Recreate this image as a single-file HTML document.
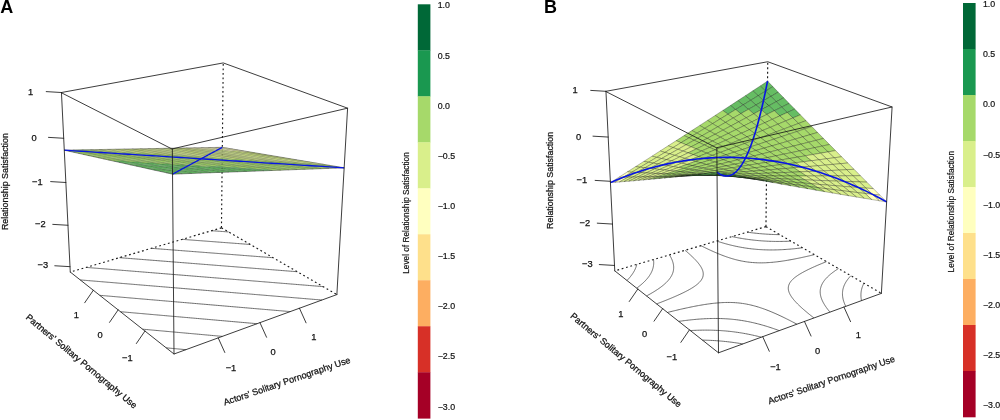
<!DOCTYPE html>
<html lang="en"><head><meta charset="utf-8"><title>Response surface plots</title>
<style>html,body{margin:0;padding:0;background:#fff}body{width:1000px;height:420px;overflow:hidden}svg{display:block;will-change:transform;transform:translateZ(0)}</style></head>
<body>
<svg width="1000" height="420" viewBox="0 0 1000 420" font-family="'Liberation Sans', Arial, Helvetica, sans-serif">
<rect width="1000" height="420" fill="#fff"/>
<g fill="none" stroke="#444" stroke-width="0.80">
<path d="M185.87 349.67 L184.90 349.58 L183.97 349.50 L183.03 349.41 L182.08 349.32 L181.15 349.23 L180.19 349.14 L179.28 349.06 L178.30 348.97 L177.41 348.89 L176.41 348.79 L175.54 348.71 L174.52 348.62 L173.67 348.54 L172.63 348.44 L171.81 348.37 L170.75 348.27 L169.94 348.19 L168.86 348.09 L168.07 348.02 L166.98 347.92 L166.21 347.85"/>
<path d="M222.30 336.38 L220.78 336.24 L220.44 336.21 L218.94 336.08 L218.58 336.05 L217.10 335.91 L216.72 335.88 L215.26 335.75 L214.86 335.71 L213.42 335.58 L213.01 335.54 L211.59 335.42 L211.15 335.38 L209.75 335.25 L209.30 335.21 L207.92 335.08 L207.45 335.04 L206.09 334.92 L205.60 334.88 L204.25 334.75 L203.75 334.71 L202.42 334.59 L201.90 334.54 L200.59 334.42 L200.05 334.37 L198.76 334.26 L198.20 334.21 L196.94 334.09 L196.36 334.04 L195.11 333.93 L194.51 333.88 L193.29 333.76 L192.67 333.71 L191.46 333.60 L190.83 333.54 L189.64 333.44 L188.98 333.38 L187.82 333.27 L187.14 333.21 L185.99 333.11 L185.30 333.04 L184.17 332.94 L183.47 332.88 L182.36 332.78 L181.63 332.71 L180.54 332.62 L179.79 332.55 L178.72 332.45 L177.96 332.38 L176.90 332.29 L176.12 332.22 L175.09 332.12 L174.29 332.05 L173.28 331.96 L172.46 331.89 L171.46 331.80 L170.63 331.72 L169.65 331.63 L168.80 331.56 L167.84 331.47 L166.97 331.39 L166.03 331.31 L165.14 331.23 L164.22 331.14 L163.32 331.06 L162.42 330.98 L161.49 330.90 L160.61 330.82 L159.67 330.73 L158.80 330.65 L157.84 330.57 L157.00 330.49 L156.02 330.40 L155.20 330.33 L154.20 330.24 L153.39 330.17 L152.38 330.08 L151.59 330.00 L150.56 329.91 L149.79 329.84 L148.74 329.75 L147.99 329.68 L146.92 329.58 L146.19 329.52 L145.11 329.42 L144.40 329.36 L143.29 329.26 L142.60 329.19"/>
<path d="M257.04 323.71 L256.79 323.68 L255.21 323.55 L254.99 323.53 L253.39 323.39 L253.18 323.37 L251.56 323.23 L251.37 323.21 L249.74 323.07 L249.57 323.05 L247.91 322.91 L247.76 322.89 L246.09 322.75 L245.96 322.73 L244.27 322.59 L244.16 322.58 L242.45 322.43 L242.36 322.42 L240.64 322.27 L240.56 322.26 L238.82 322.11 L238.76 322.10 L237.00 321.95 L236.96 321.94 L235.19 321.79 L235.16 321.79 L233.37 321.63 L233.37 321.63 L231.57 321.47 L231.56 321.47 L229.78 321.31 L229.75 321.31 L227.99 321.16 L227.93 321.15 L226.19 321.00 L226.12 320.99 L224.40 320.84 L224.32 320.84 L222.61 320.69 L222.51 320.68 L220.82 320.53 L220.70 320.52 L219.04 320.37 L218.89 320.36 L217.25 320.22 L217.09 320.20 L215.46 320.06 L215.29 320.04 L213.68 319.90 L213.48 319.89 L211.89 319.75 L211.68 319.73 L210.11 319.59 L209.88 319.57 L208.33 319.43 L208.08 319.41 L206.55 319.28 L206.28 319.25 L204.77 319.12 L204.48 319.10 L202.99 318.97 L202.69 318.94 L201.21 318.81 L200.89 318.78 L199.44 318.65 L199.10 318.62 L197.66 318.50 L197.30 318.47 L195.89 318.34 L195.51 318.31 L194.11 318.19 L193.72 318.15 L192.34 318.03 L191.93 317.99 L190.57 317.88 L190.14 317.84 L188.80 317.72 L188.35 317.68 L187.03 317.56 L186.56 317.52 L185.26 317.41 L184.77 317.37 L183.49 317.25 L182.99 317.21 L181.72 317.10 L181.20 317.05 L179.96 316.94 L179.42 316.90 L178.19 316.79 L177.64 316.74 L176.43 316.63 L175.86 316.58 L174.66 316.48 L174.07 316.43 L172.90 316.33 L172.30 316.27 L171.14 316.17 L170.52 316.12 L169.38 316.02 L168.74 315.96 L167.62 315.86 L166.96 315.80 L165.86 315.71 L165.19 315.65 L164.11 315.55 L163.41 315.49 L162.35 315.40 L161.64 315.34 L160.60 315.25 L159.87 315.18 L158.84 315.09 L158.09 315.03 L157.09 314.94 L156.32 314.87 L155.34 314.78 L154.55 314.72 L153.59 314.63 L152.79 314.56 L151.83 314.48 L151.02 314.41 L150.09 314.32 L149.25 314.25 L148.34 314.17 L147.49 314.10 L146.59 314.02 L145.72 313.94 L144.84 313.86 L143.96 313.79 L143.10 313.71 L142.19 313.63 L141.35 313.56 L140.43 313.48 L139.61 313.41 L138.67 313.32 L137.87 313.25 L136.91 313.17 L136.13 313.10 L135.15 313.01 L134.39 312.95 L133.40 312.86 L132.65 312.79 L131.64 312.71 L130.91 312.64 L129.88 312.55 L129.17 312.49 L128.13 312.40 L127.43 312.34 L126.37 312.24 L125.70 312.18 L124.62 312.09 L123.96 312.03 L122.87 311.94 L122.23 311.88 L121.12 311.78 L120.50 311.73"/>
<path d="M290.21 311.60 L289.42 311.54 L288.42 311.45 L287.64 311.39 L286.62 311.30 L285.87 311.23 L284.83 311.14 L284.09 311.08 L283.04 310.99 L282.32 310.93 L281.25 310.84 L280.55 310.78 L279.46 310.69 L278.78 310.63 L277.67 310.53 L277.01 310.48 L275.88 310.38 L275.24 310.33 L274.09 310.23 L273.47 310.17 L272.31 310.08 L271.70 310.02 L270.52 309.92 L269.94 309.87 L268.74 309.77 L268.17 309.72 L266.96 309.62 L266.41 309.57 L265.17 309.47 L264.64 309.42 L263.39 309.31 L262.88 309.27 L261.61 309.16 L261.12 309.12 L259.84 309.01 L259.36 308.97 L258.06 308.86 L257.60 308.82 L256.28 308.71 L255.84 308.67 L254.50 308.56 L254.08 308.52 L252.73 308.40 L252.32 308.37 L250.96 308.25 L250.57 308.22 L249.18 308.10 L248.81 308.07 L247.41 307.95 L247.06 307.92 L245.64 307.80 L245.31 307.77 L243.87 307.65 L243.56 307.62 L242.10 307.50 L241.80 307.47 L240.33 307.35 L240.05 307.32 L238.57 307.19 L238.31 307.17 L236.80 307.04 L236.56 307.02 L235.04 306.89 L234.81 306.87 L233.27 306.74 L233.06 306.72 L231.51 306.59 L231.32 306.58 L229.75 306.44 L229.58 306.43 L227.99 306.29 L227.83 306.28 L226.23 306.14 L226.09 306.13 L224.47 305.99 L224.35 305.98 L222.71 305.84 L222.61 305.83 L220.95 305.69 L220.87 305.68 L219.19 305.54 L219.13 305.54 L217.44 305.39 L217.39 305.39 L215.68 305.24 L215.66 305.24 L213.93 305.09 L213.92 305.09 L212.19 304.94 L212.18 304.94 L210.45 304.79 L210.43 304.79 L208.72 304.65 L208.68 304.64 L206.99 304.50 L206.93 304.49 L205.26 304.35 L205.18 304.34 L203.53 304.20 L203.43 304.19 L201.80 304.06 L201.69 304.05 L200.07 303.91 L199.94 303.90 L198.34 303.76 L198.19 303.75 L196.62 303.61 L196.45 303.60 L194.89 303.47 L194.71 303.45 L193.17 303.32 L192.97 303.30 L191.44 303.17 L191.23 303.15 L189.72 303.02 L189.49 303.00 L188.00 302.88 L187.75 302.86 L186.28 302.73 L186.01 302.71 L184.56 302.58 L184.27 302.56 L182.84 302.44 L182.54 302.41 L181.12 302.29 L180.80 302.26 L179.41 302.14 L179.07 302.11 L177.69 302.00 L177.33 301.97 L175.98 301.85 L175.60 301.82 L174.26 301.70 L173.87 301.67 L172.55 301.56 L172.14 301.52 L170.84 301.41 L170.41 301.38 L169.13 301.27 L168.68 301.23 L167.42 301.12 L166.95 301.08 L165.71 300.97 L165.23 300.93 L164.00 300.83 L163.50 300.79 L162.29 300.68 L161.78 300.64 L160.58 300.54 L160.05 300.49 L158.88 300.39 L158.33 300.34 L157.17 300.24 L156.61 300.20 L155.47 300.10 L154.89 300.05 L153.77 299.95 L153.17 299.90 L152.06 299.81 L151.45 299.76 L150.36 299.66 L149.73 299.61 L148.66 299.52 L148.02 299.46 L146.96 299.37 L146.30 299.32 L145.27 299.23 L144.58 299.17 L143.57 299.08 L142.87 299.02 L141.87 298.94 L141.16 298.88 L140.18 298.79 L139.44 298.73 L138.48 298.65 L137.73 298.58 L136.79 298.50 L136.02 298.44 L135.10 298.36 L134.31 298.29 L133.40 298.22 L132.60 298.15 L131.71 298.07 L130.90 298.00 L130.02 297.93 L129.19 297.86 L128.33 297.78 L127.48 297.71 L126.65 297.64 L125.78 297.56 L124.96 297.49 L124.07 297.42 L123.27 297.35 L122.37 297.27 L121.59 297.21 L120.67 297.13 L119.90 297.06 L118.97 296.98 L118.22 296.92 L117.27 296.84 L116.54 296.77 L115.57 296.69 L114.85 296.63 L113.87 296.55 L113.17 296.49 L112.17 296.40 L111.49 296.34 L110.48 296.26 L109.81 296.20 L108.78 296.11 L108.14 296.06 L107.08 295.97 L106.46 295.91 L105.39 295.82 L104.78 295.77 L103.70 295.68 L103.11 295.63 L102.01 295.53 L101.43 295.49 L100.31 295.39 L99.76 295.34"/>
<path d="M321.91 300.04 L320.60 299.93 L320.15 299.89 L318.85 299.78 L318.39 299.74 L317.11 299.64 L316.63 299.60 L315.36 299.49 L314.87 299.45 L313.62 299.35 L313.11 299.30 L311.88 299.20 L311.35 299.16 L310.14 299.06 L309.59 299.01 L308.40 298.91 L307.83 298.87 L306.66 298.77 L306.08 298.72 L304.92 298.62 L304.32 298.57 L303.19 298.48 L302.57 298.43 L301.45 298.34 L300.81 298.28 L299.72 298.19 L299.06 298.14 L297.98 298.05 L297.31 297.99 L296.25 297.90 L295.56 297.85 L294.52 297.76 L293.81 297.70 L292.79 297.61 L292.06 297.55 L291.06 297.47 L290.31 297.41 L289.33 297.33 L288.57 297.26 L287.60 297.18 L286.82 297.12 L285.87 297.04 L285.08 296.97 L284.14 296.90 L283.33 296.83 L282.42 296.75 L281.59 296.68 L280.69 296.61 L279.85 296.54 L278.97 296.47 L278.11 296.39 L277.25 296.32 L276.37 296.25 L275.53 296.18 L274.63 296.10 L273.80 296.04 L272.89 295.96 L272.08 295.89 L271.15 295.82 L270.37 295.75 L269.42 295.67 L268.65 295.61 L267.68 295.53 L266.93 295.46 L265.95 295.38 L265.21 295.32 L264.22 295.24 L263.50 295.18 L262.48 295.09 L261.78 295.04 L260.75 294.95 L260.07 294.89 L259.02 294.81 L258.36 294.75 L257.29 294.66 L256.65 294.61 L255.56 294.52 L254.94 294.47 L253.84 294.38 L253.23 294.32 L252.11 294.23 L251.52 294.18 L250.38 294.09 L249.81 294.04 L248.66 293.94 L248.10 293.90 L246.93 293.80 L246.40 293.76 L245.21 293.66 L244.69 293.61 L243.49 293.51 L242.99 293.47 L241.77 293.37 L241.28 293.33 L240.05 293.23 L239.58 293.19 L238.33 293.09 L237.88 293.05 L236.61 292.94 L236.18 292.91 L234.89 292.80 L234.48 292.76 L233.18 292.66 L232.78 292.62 L231.46 292.51 L231.08 292.48 L229.75 292.37 L229.38 292.34 L228.03 292.23 L227.69 292.20 L226.32 292.09 L225.99 292.06 L224.61 291.94 L224.30 291.92 L222.90 291.80 L222.60 291.78 L221.19 291.66 L220.91 291.64 L219.48 291.52 L219.22 291.50 L217.77 291.38 L217.53 291.36 L216.06 291.23 L215.84 291.21 L214.36 291.09 L214.15 291.07 L212.65 290.95 L212.46 290.93 L210.95 290.81 L210.77 290.79 L209.24 290.67 L209.09 290.65 L207.54 290.52 L207.40 290.51 L205.84 290.38 L205.72 290.37 L204.14 290.24 L204.03 290.23 L202.44 290.10 L202.35 290.09 L200.74 289.96 L200.67 289.95 L199.04 289.82 L198.99 289.81 L197.34 289.68 L197.31 289.67 L195.65 289.54 L195.63 289.53 L193.95 289.39 L193.95 289.39 L192.27 289.25 L192.26 289.25 L190.60 289.12 L190.56 289.11 L188.92 288.98 L188.87 288.97 L187.25 288.84 L187.18 288.83 L185.57 288.70 L185.49 288.69 L183.90 288.56 L183.80 288.55 L182.23 288.42 L182.11 288.41 L180.56 288.28 L180.42 288.27 L178.89 288.14 L178.73 288.13 L177.22 288.00 L177.05 287.99 L175.55 287.86 L175.36 287.85 L173.88 287.72 L173.68 287.71 L172.21 287.59 L171.99 287.57 L170.55 287.45 L170.31 287.43 L168.88 287.31 L168.63 287.29 L167.22 287.17 L166.95 287.15 L165.56 287.03 L165.27 287.01 L163.89 286.89 L163.59 286.87 L162.23 286.76 L161.91 286.73 L160.57 286.62 L160.23 286.59 L158.91 286.48 L158.56 286.45 L157.25 286.34 L156.88 286.31 L155.60 286.20 L155.21 286.17 L153.94 286.07 L153.53 286.03 L152.28 285.93 L151.86 285.89 L150.63 285.79 L150.19 285.75 L148.97 285.65 L148.52 285.62 L147.32 285.52 L146.85 285.48 L145.67 285.38 L145.18 285.34 L144.01 285.24 L143.51 285.20 L142.36 285.10 L141.84 285.06 L140.71 284.97 L140.17 284.92 L139.06 284.83 L138.51 284.78 L137.42 284.69 L136.84 284.64 L135.77 284.55 L135.18 284.51 L134.12 284.42 L133.52 284.37 L132.48 284.28 L131.85 284.23 L130.83 284.14 L130.19 284.09 L129.19 284.01 L128.53 283.95 L127.54 283.87 L126.87 283.81 L125.90 283.73 L125.21 283.68 L124.26 283.60 L123.56 283.54 L122.62 283.46 L121.90 283.40 L120.98 283.32 L120.24 283.26 L119.34 283.19 L118.59 283.13 L117.70 283.05 L116.93 282.99 L116.06 282.92 L115.28 282.85 L114.43 282.78 L113.63 282.71 L112.79 282.64 L111.98 282.58 L111.16 282.51 L110.32 282.44 L109.52 282.37 L108.67 282.30 L107.89 282.24 L107.03 282.16 L106.26 282.10 L105.38 282.03 L104.63 281.96 L103.73 281.89 L103.00 281.83 L102.08 281.75 L101.37 281.69 L100.44 281.62 L99.74 281.56 L98.79 281.48 L98.11 281.42 L97.15 281.34 L96.49 281.29 L95.51 281.21 L94.86 281.15 L93.86 281.07 L93.23 281.02 L92.22 280.93 L91.61 280.88 L90.58 280.80 L89.99 280.75 L88.94 280.66 L88.36 280.61 L87.30 280.52 L86.74 280.48 L85.67 280.39 L85.12 280.34 L84.03 280.25 L83.50 280.21 L82.39 280.12 L81.88 280.07 L80.76 279.98 L80.26 279.94"/>
<path d="M323.08 286.61 L322.90 286.59 L321.38 286.47 L321.18 286.45 L319.68 286.33 L319.46 286.31 L317.98 286.19 L317.75 286.17 L316.29 286.06 L316.03 286.03 L314.59 285.92 L314.32 285.90 L312.89 285.78 L312.61 285.76 L311.20 285.64 L310.89 285.62 L309.50 285.51 L309.18 285.48 L307.81 285.37 L307.47 285.34 L306.12 285.23 L305.76 285.20 L304.42 285.09 L304.05 285.06 L302.73 284.96 L302.34 284.92 L301.04 284.82 L300.64 284.79 L299.35 284.68 L298.93 284.65 L297.67 284.55 L297.22 284.51 L295.98 284.41 L295.52 284.37 L294.29 284.27 L293.82 284.23 L292.61 284.14 L292.11 284.10 L290.92 284.00 L290.41 283.96 L289.24 283.86 L288.71 283.82 L287.55 283.73 L287.01 283.68 L285.87 283.59 L285.31 283.54 L284.19 283.45 L283.62 283.41 L282.51 283.32 L281.92 283.27 L280.83 283.18 L280.22 283.13 L279.15 283.04 L278.53 282.99 L277.48 282.91 L276.83 282.86 L275.80 282.77 L275.14 282.72 L274.12 282.64 L273.45 282.58 L272.45 282.50 L271.75 282.44 L270.77 282.37 L270.06 282.31 L269.10 282.23 L268.37 282.17 L267.43 282.09 L266.68 282.03 L265.76 281.96 L265.00 281.90 L264.09 281.82 L263.31 281.76 L262.42 281.69 L261.62 281.62 L260.75 281.55 L259.94 281.49 L259.08 281.42 L258.25 281.35 L257.41 281.28 L256.57 281.21 L255.74 281.15 L254.88 281.08 L254.08 281.01 L253.20 280.94 L252.41 280.88 L251.52 280.80 L250.75 280.74 L249.84 280.67 L249.09 280.61 L248.16 280.53 L247.43 280.47 L246.48 280.40 L245.76 280.34 L244.81 280.26 L244.10 280.20 L243.13 280.12 L242.45 280.07 L241.45 279.99 L240.79 279.93 L239.78 279.85 L239.13 279.80 L238.10 279.72 L237.47 279.67 L236.43 279.58 L235.82 279.53 L234.76 279.45 L234.16 279.40 L233.09 279.31 L232.51 279.26 L231.42 279.17 L230.85 279.13 L229.75 279.04 L229.20 278.99 L228.08 278.90 L227.55 278.86 L226.41 278.77 L225.90 278.73 L224.74 278.63 L224.25 278.59 L223.08 278.50 L222.60 278.46 L221.41 278.36 L220.95 278.33 L219.75 278.23 L219.30 278.19 L218.08 278.09 L217.66 278.06 L216.42 277.96 L216.01 277.93 L214.76 277.82 L214.37 277.79 L213.10 277.69 L212.72 277.66 L211.44 277.55 L211.08 277.53 L209.78 277.42 L209.44 277.39 L208.12 277.29 L207.80 277.26 L206.46 277.15 L206.16 277.13 L204.81 277.02 L204.52 276.99 L203.15 276.88 L202.88 276.86 L201.50 276.75 L201.24 276.73 L199.84 276.61 L199.60 276.59 L198.19 276.48 L197.96 276.46 L196.54 276.35 L196.33 276.33 L194.88 276.21 L194.69 276.20 L193.23 276.08 L193.06 276.06 L191.58 275.94 L191.43 275.93 L189.94 275.81 L189.80 275.80 L188.29 275.68 L188.16 275.67 L186.64 275.54 L186.53 275.54 L184.99 275.41 L184.90 275.40 L183.35 275.28 L183.28 275.27 L181.70 275.14 L181.65 275.14 L180.06 275.01 L180.02 275.01 L178.42 274.88 L178.39 274.88 L176.78 274.74 L176.77 274.74 L175.14 274.61 L175.13 274.61 L173.52 274.48 L173.49 274.48 L171.90 274.35 L171.85 274.35 L170.28 274.22 L170.22 274.21 L168.65 274.09 L168.58 274.08 L167.03 273.95 L166.94 273.95 L165.41 273.82 L165.31 273.81 L163.80 273.69 L163.67 273.68 L162.18 273.56 L162.04 273.55 L160.56 273.43 L160.40 273.42 L158.94 273.30 L158.77 273.28 L157.33 273.17 L157.14 273.15 L155.71 273.04 L155.51 273.02 L154.10 272.91 L153.88 272.89 L152.49 272.77 L152.25 272.76 L150.88 272.64 L150.62 272.62 L149.26 272.51 L148.99 272.49 L147.65 272.38 L147.37 272.36 L146.04 272.25 L145.74 272.23 L144.44 272.12 L144.11 272.10 L142.83 271.99 L142.49 271.96 L141.22 271.86 L140.87 271.83 L139.61 271.73 L139.24 271.70 L138.01 271.60 L137.62 271.57 L136.40 271.47 L136.00 271.44 L134.80 271.34 L134.38 271.31 L133.20 271.21 L132.76 271.18 L131.60 271.08 L131.14 271.04 L129.99 270.95 L129.53 270.91 L128.39 270.82 L127.91 270.78 L126.79 270.69 L126.29 270.65 L125.19 270.56 L124.68 270.52 L123.60 270.43 L123.06 270.39 L122.00 270.30 L121.45 270.26 L120.40 270.17 L119.84 270.13 L118.81 270.04 L118.23 270.00 L117.21 269.91 L116.62 269.87 L115.62 269.79 L115.01 269.74 L114.03 269.66 L113.40 269.61 L112.43 269.53 L111.79 269.48 L110.84 269.40 L110.18 269.34 L109.25 269.27 L108.58 269.21 L107.66 269.14 L106.97 269.08 L106.07 269.01 L105.36 268.95 L104.48 268.88 L103.76 268.82 L102.90 268.75 L102.16 268.69 L101.31 268.63 L100.55 268.56 L99.72 268.50 L98.95 268.43 L98.14 268.37 L97.35 268.30 L96.55 268.24 L95.75 268.17 L94.97 268.11 L94.15 268.05 L93.39 267.98 L92.55 267.92 L91.80 267.85 L90.96 267.79 L90.22 267.73 L89.36 267.66 L88.64 267.60 L87.76 267.53 L87.06 267.47 L86.17 267.40"/>
<path d="M297.37 271.74 L297.14 271.72 L295.72 271.61 L295.48 271.59 L294.08 271.48 L293.82 271.46 L292.44 271.35 L292.16 271.32 L290.80 271.22 L290.51 271.19 L289.15 271.09 L288.85 271.06 L287.51 270.96 L287.19 270.93 L285.88 270.83 L285.54 270.80 L284.24 270.70 L283.88 270.67 L282.60 270.57 L282.23 270.54 L280.96 270.44 L280.57 270.41 L279.33 270.31 L278.92 270.28 L277.69 270.18 L277.27 270.15 L276.06 270.05 L275.62 270.02 L274.42 269.92 L273.97 269.89 L272.79 269.79 L272.32 269.75 L271.16 269.66 L270.67 269.62 L269.53 269.53 L269.03 269.49 L267.90 269.40 L267.38 269.36 L266.27 269.28 L265.73 269.23 L264.64 269.15 L264.09 269.10 L263.01 269.02 L262.45 268.97 L261.39 268.89 L260.80 268.84 L259.76 268.76 L259.16 268.71 L258.14 268.63 L257.52 268.58 L256.51 268.50 L255.88 268.45 L254.89 268.38 L254.24 268.32 L253.27 268.25 L252.60 268.19 L251.65 268.12 L250.96 268.07 L250.02 267.99 L249.33 267.94 L248.40 267.86 L247.69 267.81 L246.79 267.73 L246.05 267.68 L245.17 267.61 L244.42 267.55 L243.55 267.48 L242.79 267.42 L241.93 267.35 L241.15 267.29 L240.32 267.22 L239.52 267.16 L238.70 267.10 L237.89 267.03 L237.09 266.97 L236.26 266.90 L235.47 266.84 L234.63 266.77 L233.86 266.71 L233.00 266.64 L232.25 266.59 L231.37 266.52 L230.64 266.46 L229.75 266.39 L229.03 266.33 L228.12 266.26 L227.42 266.20 L226.50 266.13 L225.81 266.08 L224.87 266.00 L224.20 265.95 L223.25 265.87 L222.60 265.82 L221.62 265.74 L220.99 265.69 L220.00 265.62 L219.38 265.57 L218.38 265.49 L217.78 265.44 L216.76 265.36 L216.18 265.31 L215.14 265.23 L214.57 265.19 L213.52 265.10 L212.97 265.06 L211.90 264.98 L211.37 264.93 L210.29 264.85 L209.77 264.81 L208.67 264.72 L208.17 264.68 L207.06 264.59 L206.57 264.55 L205.44 264.47 L204.97 264.43 L203.83 264.34 L203.37 264.30 L202.21 264.21 L201.78 264.18 L200.60 264.08 L200.18 264.05 L198.99 263.95 L198.59 263.92 L197.38 263.83 L196.99 263.80 L195.77 263.70 L195.40 263.67 L194.16 263.57 L193.81 263.54 L192.55 263.45 L192.22 263.42 L190.95 263.32 L190.63 263.29 L189.34 263.19 L189.04 263.17 L187.73 263.06 L187.45 263.04 L186.13 262.94 L185.86 262.92 L184.53 262.81 L184.27 262.79 L182.92 262.68 L182.68 262.67 L181.32 262.56 L181.10 262.54 L179.72 262.43 L179.51 262.41 L178.12 262.30 L177.93 262.29 L176.52 262.18 L176.34 262.16 L174.92 262.05 L174.76 262.04 L173.32 261.92 L173.18 261.91 L171.72 261.80 L171.60 261.79 L170.13 261.67 L170.02 261.66 L168.53 261.55 L168.44 261.54 L166.94 261.42 L166.86 261.41 L165.34 261.29 L165.28 261.29 L163.75 261.17 L163.70 261.16 L162.15 261.04 L162.13 261.04 L160.56 260.92 L160.55 260.91 L158.98 260.79 L158.97 260.79 L157.40 260.67 L157.38 260.66 L155.83 260.54 L155.79 260.54 L154.26 260.42 L154.20 260.41 L152.68 260.29 L152.62 260.29 L151.11 260.17 L151.03 260.16 L149.54 260.04 L149.44 260.04 L147.97 259.92 L147.86 259.91 L146.40 259.80 L146.27 259.79 L144.84 259.67 L144.69 259.66 L143.27 259.55 L143.11 259.53 L141.70 259.42 L141.52 259.41 L140.14 259.30 L139.94 259.28 L138.57 259.18 L138.36 259.16 L137.01 259.05 L136.78 259.03 L135.45 258.93 L135.20 258.91 L133.88 258.81 L133.62 258.79 L132.32 258.68 L132.05 258.66 L130.76 258.56 L130.47 258.54 L129.20 258.44 L128.89 258.41 L127.64 258.31 L127.32 258.29 L126.08 258.19 L125.75 258.16 L124.53 258.07 L124.17 258.04 L122.97 257.94 L122.60 257.91 L121.41 257.82 L121.03 257.79 L119.86 257.70 L119.46 257.66"/>
<path d="M273.12 257.71 L272.86 257.69 L271.53 257.59 L271.25 257.57 L269.94 257.47 L269.65 257.45 L268.35 257.35 L268.04 257.32 L266.76 257.22 L266.44 257.20 L265.17 257.10 L264.83 257.07 L263.58 256.98 L263.23 256.95 L262.00 256.86 L261.63 256.83 L260.41 256.73 L260.03 256.70 L258.83 256.61 L258.43 256.58 L257.24 256.49 L256.83 256.46 L255.66 256.37 L255.23 256.33 L254.08 256.24 L253.63 256.21 L252.50 256.12 L252.03 256.09 L250.91 256.00 L250.43 255.96 L249.33 255.88 L248.84 255.84 L247.76 255.76 L247.24 255.72 L246.18 255.63 L245.65 255.59 L244.60 255.51 L244.05 255.47 L243.02 255.39 L242.46 255.35 L241.45 255.27 L240.87 255.22 L239.87 255.15 L239.28 255.10 L238.30 255.03 L237.69 254.98 L236.72 254.90 L236.10 254.86 L235.15 254.78 L234.51 254.73 L233.58 254.66 L232.92 254.61 L232.00 254.54 L231.33 254.49 L230.43 254.42 L229.75 254.37 L228.86 254.30 L228.16 254.24 L227.29 254.18 L226.58 254.12 L225.73 254.06 L224.99 254.00 L224.16 253.93 L223.41 253.88 L222.59 253.81 L221.83 253.75 L221.02 253.69 L220.24 253.63 L219.46 253.57 L218.66 253.51 L217.89 253.45 L217.08 253.39 L216.33 253.33 L215.50 253.27 L214.77 253.21 L213.93 253.14 L213.21 253.09 L212.35 253.02 L211.64 252.97 L210.77 252.90 L210.08 252.85 L209.19 252.78 L208.52 252.73 L207.62 252.66 L206.96 252.61 L206.04 252.54 L205.41 252.49 L204.47 252.41 L203.85 252.37 L202.90 252.29 L202.29 252.25 L201.32 252.17 L200.73 252.13 L199.75 252.05 L199.18 252.01 L198.18 251.93 L197.62 251.89 L196.61 251.81 L196.07 251.77 L195.04 251.69 L194.52 251.65 L193.47 251.57 L192.97 251.53 L191.91 251.44 L191.41 251.41 L190.34 251.32 L189.86 251.29 L188.77 251.20 L188.31 251.17 L187.21 251.08 L186.76 251.05 L185.64 250.96 L185.21 250.93 L184.08 250.84 L183.67 250.81 L182.52 250.72 L182.12 250.69 L180.95 250.60 L180.57 250.57 L179.39 250.48 L179.03 250.45 L177.83 250.36 L177.48 250.33 L176.27 250.24 L175.94 250.21 L174.71 250.12 L174.40 250.09 L173.16 250.00 L172.85 249.97 L171.60 249.88 L171.31 249.85 L170.04 249.76 L169.77 249.74 L168.48 249.64 L168.23 249.62 L166.93 249.52 L166.69 249.50 L165.37 249.40 L165.15 249.38 L163.82 249.28 L163.61 249.26 L162.27 249.16 L162.08 249.14 L160.72 249.04 L160.54 249.02 L159.16 248.92 L159.01 248.90 L157.61 248.80 L157.47 248.79 L156.06 248.68 L155.94 248.67 L154.51 248.56 L154.40 248.55 L152.97 248.44 L152.87 248.43 L151.42 248.32"/>
<path d="M250.22 244.47 L249.93 244.45 L248.68 244.36 L248.37 244.33 L247.14 244.24 L246.82 244.22 L245.60 244.12 L245.26 244.10 L244.06 244.01 L243.71 243.98 L242.52 243.89 L242.15 243.86 L240.98 243.78 L240.60 243.75 L239.45 243.66 L239.05 243.63 L237.91 243.54 L237.49 243.51 L236.37 243.43 L235.94 243.40 L234.84 243.31 L234.39 243.28 L233.30 243.20 L232.84 243.16 L231.77 243.08 L231.30 243.05 L230.24 242.97 L229.75 242.93 L228.71 242.85 L228.20 242.81 L227.18 242.74 L226.65 242.70 L225.65 242.62 L225.11 242.58 L224.12 242.50 L223.56 242.46 L222.59 242.39 L222.02 242.35 L221.06 242.27 L220.48 242.23 L219.53 242.16 L218.93 242.11 L218.01 242.04 L217.39 242.00 L216.48 241.93 L215.85 241.88 L214.95 241.81 L214.31 241.76 L213.43 241.70 L212.77 241.65 L211.91 241.58 L211.23 241.53 L210.38 241.47 L209.69 241.42 L208.86 241.35 L208.15 241.30 L207.34 241.24 L206.62 241.18 L205.82 241.12 L205.08 241.07 L204.30 241.01 L203.55 240.95 L202.78 240.90 L202.01 240.84 L201.26 240.78 L200.48 240.72 L199.74 240.67 L198.95 240.61 L198.23 240.55 L197.41 240.49 L196.71 240.44 L195.88 240.38 L195.19 240.32 L194.35 240.26 L193.68 240.21 L192.82 240.14 L192.16 240.10 L191.29 240.03 L190.65 239.98 L189.76 239.91 L189.14 239.87 L188.24 239.80 L187.63 239.75 L186.71 239.68 L186.11 239.64 L185.18 239.57 L184.60 239.53 L183.66 239.45 L183.09 239.41 L182.13 239.34"/>
<path d="M228.56 231.95 L228.24 231.92 L227.06 231.84 L226.73 231.81 L225.57 231.73 L225.22 231.70 L224.08 231.62 L223.71 231.59 L222.58 231.51 L222.20 231.48 L221.09 231.40 L220.70 231.37 L219.60 231.29 L219.19 231.26 L218.11 231.18 L217.68 231.15 L216.62 231.07 L216.18 231.03 L215.13 230.96 L214.67 230.92 L213.64 230.85 L213.17 230.81 L212.16 230.74 L211.67 230.70"/>
</g>
<g fill="none" stroke="#1a1a1a" stroke-width="1.15" stroke-dasharray="1.8 2.7">
<path d="M221.46 227.84 L70.27 272.05"/>
<path d="M221.46 227.84 L336.87 294.58"/>
<path d="M221.46 227.84 L223.25 62.93"/>
</g>
<g stroke="#000" stroke-width="0.17" stroke-opacity="0.80" stroke-linejoin="round">
<polygon points="220.45,148.33 227.57,148.20 222.33,147.31 215.23,147.44" fill="#ffffbf"/>
<polygon points="213.24,148.47 220.45,148.33 215.23,147.44 208.05,147.57" fill="#ffffbf"/>
<polygon points="225.74,149.23 232.89,149.09 227.57,148.20 220.45,148.33" fill="#ffffbf"/>
<polygon points="205.96,148.60 213.24,148.47 208.05,147.57 200.80,147.70" fill="#ffffbf"/>
<polygon points="218.51,149.37 225.74,149.23 220.45,148.33 213.24,148.47" fill="#ffffbf"/>
<polygon points="231.11,150.14 238.29,150.00 232.89,149.09 225.74,149.23" fill="#ffffbf"/>
<polygon points="198.60,148.74 205.96,148.60 200.80,147.70 193.47,147.84" fill="#ffffbf"/>
<polygon points="211.21,149.52 218.51,149.37 213.24,148.47 205.96,148.60" fill="#ffffbf"/>
<polygon points="223.86,150.29 231.11,150.14 225.74,149.23 218.51,149.37" fill="#ffffbf"/>
<polygon points="191.16,148.88 198.60,148.74 193.47,147.84 186.05,147.97" fill="#ffffbf"/>
<polygon points="236.57,151.07 243.77,150.92 238.29,150.00 231.11,150.14" fill="#ffffbf"/>
<polygon points="203.82,149.66 211.21,149.52 205.96,148.60 198.60,148.74" fill="#ffffbf"/>
<polygon points="216.53,150.44 223.86,150.29 218.51,149.37 211.21,149.52" fill="#ffffbf"/>
<polygon points="183.64,149.02 191.16,148.88 186.05,147.97 178.56,148.11" fill="#d9ef8b"/>
<polygon points="229.29,151.23 236.57,151.07 231.11,150.14 223.86,150.29" fill="#ffffbf"/>
<polygon points="196.35,149.81 203.82,149.66 198.60,148.74 191.16,148.88" fill="#d9ef8b"/>
<polygon points="242.10,152.01 249.33,151.86 243.77,150.92 236.57,151.07" fill="#ffffbf"/>
<polygon points="209.11,150.59 216.53,150.44 211.21,149.52 203.82,149.66" fill="#d9ef8b"/>
<polygon points="176.03,149.17 183.64,149.02 178.56,148.11 170.98,148.25" fill="#d9ef8b"/>
<polygon points="221.93,151.38 229.29,151.23 223.86,150.29 216.53,150.44" fill="#d9ef8b"/>
<polygon points="188.80,149.96 196.35,149.81 191.16,148.88 183.64,149.02" fill="#d9ef8b"/>
<polygon points="234.80,152.18 242.10,152.01 236.57,151.07 229.29,151.23" fill="#d9ef8b"/>
<polygon points="201.62,150.75 209.11,150.59 203.82,149.66 196.35,149.81" fill="#d9ef8b"/>
<polygon points="247.73,152.97 254.97,152.81 249.33,151.86 242.10,152.01" fill="#d9ef8b"/>
<polygon points="168.34,149.31 176.03,149.17 170.98,148.25 163.32,148.38" fill="#d9ef8b"/>
<polygon points="214.49,151.54 221.93,151.38 216.53,150.44 209.11,150.59" fill="#d9ef8b"/>
<polygon points="181.16,150.11 188.80,149.96 183.64,149.02 176.03,149.17" fill="#d9ef8b"/>
<polygon points="227.42,152.34 234.80,152.18 229.29,151.23 221.93,151.38" fill="#d9ef8b"/>
<polygon points="194.04,150.90 201.62,150.75 196.35,149.81 188.80,149.96" fill="#d9ef8b"/>
<polygon points="240.40,153.14 247.73,152.97 242.10,152.01 234.80,152.18" fill="#d9ef8b"/>
<polygon points="160.56,149.46 168.34,149.31 163.32,148.38 155.57,148.53" fill="#d9ef8b"/>
<polygon points="206.97,151.70 214.49,151.54 209.11,150.59 201.62,150.75" fill="#d9ef8b"/>
<polygon points="253.44,153.94 260.71,153.77 254.97,152.81 247.73,152.97" fill="#d9ef8b"/>
<polygon points="173.44,150.26 181.16,150.11 176.03,149.17 168.34,149.31" fill="#d9ef8b"/>
<polygon points="219.95,152.50 227.42,152.34 221.93,151.38 214.49,151.54" fill="#d9ef8b"/>
<polygon points="186.37,151.06 194.04,150.90 188.80,149.96 181.16,150.11" fill="#d9ef8b"/>
<polygon points="232.99,153.31 240.40,153.14 234.80,152.18 227.42,152.34" fill="#d9ef8b"/>
<polygon points="152.69,149.61 160.56,149.46 155.57,148.53 147.74,148.67" fill="#d9ef8b"/>
<polygon points="199.36,151.86 206.97,151.70 201.62,150.75 194.04,150.90" fill="#d9ef8b"/>
<polygon points="246.08,154.12 253.44,153.94 247.73,152.97 240.40,153.14" fill="#d9ef8b"/>
<polygon points="165.63,150.41 173.44,150.26 168.34,149.31 160.56,149.46" fill="#d9ef8b"/>
<polygon points="212.40,152.67 219.95,152.50 214.49,151.54 206.97,151.70" fill="#d9ef8b"/>
<polygon points="259.23,154.93 266.53,154.75 260.71,153.77 253.44,153.94" fill="#d9ef8b"/>
<polygon points="178.62,151.22 186.37,151.06 181.16,150.11 173.44,150.26" fill="#d9ef8b"/>
<polygon points="225.49,153.48 232.99,153.31 227.42,152.34 219.95,152.50" fill="#d9ef8b"/>
<polygon points="144.74,149.76 152.69,149.61 147.74,148.67 139.82,148.81" fill="#d9ef8b"/>
<polygon points="191.66,152.02 199.36,151.86 194.04,150.90 186.37,151.06" fill="#d9ef8b"/>
<polygon points="238.65,154.29 246.08,154.12 240.40,153.14 232.99,153.31" fill="#d9ef8b"/>
<polygon points="157.73,150.57 165.63,150.41 160.56,149.46 152.69,149.61" fill="#d9ef8b"/>
<polygon points="204.76,152.84 212.40,152.67 206.97,151.70 199.36,151.86" fill="#d9ef8b"/>
<polygon points="251.86,155.11 259.23,154.93 253.44,153.94 246.08,154.12" fill="#d9ef8b"/>
<polygon points="170.77,151.38 178.62,151.22 173.44,150.26 165.63,150.41" fill="#d9ef8b"/>
<polygon points="217.91,153.65 225.49,153.48 219.95,152.50 212.40,152.67" fill="#d9ef8b"/>
<polygon points="136.69,149.91 144.74,149.76 139.82,148.81 131.81,148.96" fill="#d9ef8b"/>
<polygon points="265.12,155.93 272.44,155.74 266.53,154.75 259.23,154.93" fill="#d9ef8b"/>
<polygon points="183.88,152.19 191.66,152.02 186.37,151.06 178.62,151.22" fill="#d9ef8b"/>
<polygon points="231.13,154.47 238.65,154.29 232.99,153.31 225.49,153.48" fill="#d9ef8b"/>
<polygon points="149.74,150.72 157.73,150.57 152.69,149.61 144.74,149.76" fill="#d9ef8b"/>
<polygon points="197.03,153.01 204.76,152.84 199.36,151.86 191.66,152.02" fill="#d9ef8b"/>
<polygon points="244.40,155.29 251.86,155.11 246.08,154.12 238.65,154.29" fill="#d9ef8b"/>
<polygon points="162.84,151.54 170.77,151.38 165.63,150.41 157.73,150.57" fill="#d9ef8b"/>
<polygon points="210.25,153.83 217.91,153.65 212.40,152.67 204.76,152.84" fill="#d9ef8b"/>
<polygon points="128.55,150.07 136.69,149.91 131.81,148.96 123.70,149.10" fill="#d9ef8b"/>
<polygon points="257.72,156.12 265.12,155.93 259.23,154.93 251.86,155.11" fill="#d9ef8b"/>
<polygon points="176.00,152.36 183.88,152.19 178.62,151.22 170.77,151.38" fill="#d9ef8b"/>
<polygon points="223.52,154.65 231.13,154.47 225.49,153.48 217.91,153.65" fill="#d9ef8b"/>
<polygon points="141.66,150.88 149.74,150.72 144.74,149.76 136.69,149.91" fill="#d9ef8b"/>
<polygon points="271.11,156.95 278.45,156.76 272.44,155.74 265.12,155.93" fill="#d9ef8b"/>
<polygon points="189.22,153.18 197.03,153.01 191.66,152.02 183.88,152.19" fill="#d9ef8b"/>
<polygon points="236.85,155.48 244.40,155.29 238.65,154.29 231.13,154.47" fill="#d9ef8b"/>
<polygon points="154.82,151.70 162.84,151.54 157.73,150.57 149.74,150.72" fill="#d9ef8b"/>
<polygon points="202.49,154.00 210.25,153.83 204.76,152.84 197.03,153.01" fill="#d9ef8b"/>
<polygon points="120.32,150.22 128.55,150.07 123.70,149.10 115.51,149.25" fill="#d9ef8b"/>
<polygon points="250.24,156.31 257.72,156.12 251.86,155.11 244.40,155.29" fill="#d9ef8b"/>
<polygon points="168.04,152.53 176.00,152.36 170.77,151.38 162.84,151.54" fill="#d9ef8b"/>
<polygon points="215.82,154.83 223.52,154.65 217.91,153.65 210.25,153.83" fill="#d9ef8b"/>
<polygon points="133.48,151.04 141.66,150.88 136.69,149.91 128.55,150.07" fill="#d9ef8b"/>
<polygon points="263.68,157.14 271.11,156.95 265.12,155.93 257.72,156.12" fill="#d9ef8b"/>
<polygon points="181.31,153.35 189.22,153.18 183.88,152.19 176.00,152.36" fill="#d9ef8b"/>
<polygon points="229.21,155.67 236.85,155.48 231.13,154.47 223.52,154.65" fill="#d9ef8b"/>
<polygon points="146.70,151.87 154.82,151.70 149.74,150.72 141.66,150.88" fill="#d9ef8b"/>
<polygon points="277.19,157.98 284.55,157.78 278.45,156.76 271.11,156.95" fill="#d9ef8b"/>
<polygon points="194.65,154.18 202.49,154.00 197.03,153.01 189.22,153.18" fill="#d9ef8b"/>
<polygon points="111.99,150.38 120.32,150.22 115.51,149.25 107.22,149.40" fill="#d9ef8b"/>
<polygon points="242.66,156.50 250.24,156.31 244.40,155.29 236.85,155.48" fill="#d9ef8b"/>
<polygon points="159.98,152.70 168.04,152.53 162.84,151.54 154.82,151.70" fill="#d9ef8b"/>
<polygon points="208.04,155.02 215.82,154.83 210.25,153.83 202.49,154.00" fill="#d9ef8b"/>
<polygon points="125.21,151.20 133.48,151.04 128.55,150.07 120.32,150.22" fill="#d9ef8b"/>
<polygon points="256.17,157.34 263.68,157.14 257.72,156.12 250.24,156.31" fill="#d9ef8b"/>
<polygon points="173.32,153.53 181.31,153.35 176.00,152.36 168.04,152.53" fill="#d9ef8b"/>
<polygon points="221.49,155.86 229.21,155.67 223.52,154.65 215.82,154.83" fill="#d9ef8b"/>
<polygon points="138.49,152.04 146.70,151.87 141.66,150.88 133.48,151.04" fill="#d9ef8b"/>
<polygon points="269.74,158.19 277.19,157.98 271.11,156.95 263.68,157.14" fill="#d9ef8b"/>
<polygon points="186.71,154.36 194.65,154.18 189.22,153.18 181.31,153.35" fill="#d9ef8b"/>
<polygon points="103.57,150.54 111.99,150.38 107.22,149.40 98.83,149.56" fill="#d9ef8b"/>
<polygon points="235.00,156.70 242.66,156.50 236.85,155.48 229.21,155.67" fill="#d9ef8b"/>
<polygon points="151.83,152.87 159.98,152.70 154.82,151.70 146.70,151.87" fill="#d9ef8b"/>
<polygon points="283.36,159.03 290.75,158.83 284.55,157.78 277.19,157.98" fill="#d9ef8b"/>
<polygon points="200.16,155.20 208.04,155.02 202.49,154.00 194.65,154.18" fill="#d9ef8b"/>
<polygon points="116.85,151.37 125.21,151.20 120.32,150.22 111.99,150.38" fill="#d9ef8b"/>
<polygon points="248.57,157.54 256.17,157.34 250.24,156.31 242.66,156.50" fill="#d9ef8b"/>
<polygon points="165.22,153.71 173.32,153.53 168.04,152.53 159.98,152.70" fill="#d9ef8b"/>
<polygon points="213.68,156.05 221.49,155.86 215.82,154.83 208.04,155.02" fill="#d9ef8b"/>
<polygon points="130.18,152.20 138.49,152.04 133.48,151.04 125.21,151.20" fill="#d9ef8b"/>
<polygon points="262.20,158.39 269.74,158.19 263.68,157.14 256.17,157.34" fill="#d9ef8b"/>
<polygon points="178.68,154.55 186.71,154.36 181.31,153.35 173.32,153.53" fill="#d9ef8b"/>
<polygon points="95.04,150.70 103.57,150.54 98.83,149.56 90.34,149.71" fill="#d9ef8b"/>
<polygon points="227.25,156.89 235.00,156.70 229.21,155.67 221.49,155.86" fill="#d9ef8b"/>
<polygon points="143.58,153.04 151.83,152.87 146.70,151.87 138.49,152.04" fill="#d9ef8b"/>
<polygon points="275.89,159.24 283.36,159.03 277.19,157.98 269.74,158.19" fill="#d9ef8b"/>
<polygon points="192.19,155.39 200.16,155.20 194.65,154.18 186.71,154.36" fill="#d9ef8b"/>
<polygon points="108.38,151.54 116.85,151.37 111.99,150.38 103.57,150.54" fill="#d9ef8b"/>
<polygon points="240.88,157.75 248.57,157.54 242.66,156.50 235.00,156.70" fill="#d9ef8b"/>
<polygon points="157.04,153.89 165.22,153.71 159.98,152.70 151.83,152.87" fill="#d9ef8b"/>
<polygon points="289.64,160.10 297.05,159.89 290.75,158.83 283.36,159.03" fill="#d9ef8b"/>
<polygon points="205.77,156.24 213.68,156.05 208.04,155.02 200.16,155.20" fill="#d9ef8b"/>
<polygon points="121.78,152.38 130.18,152.20 125.21,151.20 116.85,151.37" fill="#d9ef8b"/>
<polygon points="254.57,158.60 262.20,158.39 256.17,157.34 248.57,157.54" fill="#d9ef8b"/>
<polygon points="170.55,154.73 178.68,154.55 173.32,153.53 165.22,153.71" fill="#d9ef8b"/>
<polygon points="86.41,150.86 95.04,150.70 90.34,149.71 81.76,149.86" fill="#a6d96a"/>
<polygon points="219.40,157.09 227.25,156.89 221.49,155.86 213.68,156.05" fill="#d9ef8b"/>
<polygon points="135.24,153.22 143.58,153.04 138.49,152.04 130.18,152.20" fill="#d9ef8b"/>
<polygon points="268.33,159.46 275.89,159.24 269.74,158.19 262.20,158.39" fill="#d9ef8b"/>
<polygon points="184.13,155.58 192.19,155.39 186.71,154.36 178.68,154.55" fill="#d9ef8b"/>
<polygon points="99.81,151.70 108.38,151.54 103.57,150.54 95.04,150.70" fill="#a6d96a"/>
<polygon points="233.10,157.95 240.88,157.75 235.00,156.70 227.25,156.89" fill="#d9ef8b"/>
<polygon points="148.75,154.07 157.04,153.89 151.83,152.87 143.58,153.04" fill="#d9ef8b"/>
<polygon points="282.14,160.32 289.64,160.10 283.36,159.03 275.89,159.24" fill="#d9ef8b"/>
<polygon points="197.77,156.44 205.77,156.24 200.16,155.20 192.19,155.39" fill="#d9ef8b"/>
<polygon points="113.27,152.55 121.78,152.38 116.85,151.37 108.38,151.54" fill="#a6d96a"/>
<polygon points="246.86,158.81 254.57,158.60 248.57,157.54 240.88,157.75" fill="#d9ef8b"/>
<polygon points="162.33,154.92 170.55,154.73 165.22,153.71 157.04,153.89" fill="#d9ef8b"/>
<polygon points="296.02,161.19 303.45,160.96 297.05,159.89 289.64,160.10" fill="#d9ef8b"/>
<polygon points="77.69,151.03 86.41,150.86 81.76,149.86 73.08,150.02" fill="#a6d96a"/>
<polygon points="211.47,157.30 219.40,157.09 213.68,156.05 205.77,156.24" fill="#d9ef8b"/>
<polygon points="126.79,153.40 135.24,153.22 130.18,152.20 121.78,152.38" fill="#a6d96a"/>
<polygon points="260.67,159.67 268.33,159.46 262.20,158.39 254.57,158.60" fill="#d9ef8b"/>
<polygon points="175.97,155.78 184.13,155.58 178.68,154.55 170.55,154.73" fill="#d9ef8b"/>
<polygon points="91.14,151.87 99.81,151.70 95.04,150.70 86.41,150.86" fill="#a6d96a"/>
<polygon points="225.23,158.16 233.10,157.95 227.25,156.89 219.40,157.09" fill="#d9ef8b"/>
<polygon points="140.37,154.25 148.75,154.07 143.58,153.04 135.24,153.22" fill="#a6d96a"/>
<polygon points="274.56,160.54 282.14,160.32 275.89,159.24 268.33,159.46" fill="#d9ef8b"/>
<polygon points="189.67,156.64 197.77,156.44 192.19,155.39 184.13,155.58" fill="#d9ef8b"/>
<polygon points="104.66,152.73 113.27,152.55 108.38,151.54 99.81,151.70" fill="#a6d96a"/>
<polygon points="239.05,159.02 246.86,158.81 240.88,157.75 233.10,157.95" fill="#d9ef8b"/>
<polygon points="154.01,155.11 162.33,154.92 157.04,153.89 148.75,154.07" fill="#a6d96a"/>
<polygon points="288.50,161.41 296.02,161.19 289.64,160.10 282.14,160.32" fill="#d9ef8b"/>
<polygon points="68.85,151.19 77.69,151.03 73.08,150.02 64.29,150.18" fill="#a6d96a"/>
<polygon points="203.43,157.50 211.47,157.30 205.77,156.24 197.77,156.44" fill="#d9ef8b"/>
<polygon points="118.24,153.58 126.79,153.40 121.78,152.38 113.27,152.55" fill="#a6d96a"/>
<polygon points="252.93,159.89 260.67,159.67 254.57,158.60 246.86,158.81" fill="#d9ef8b"/>
<polygon points="167.71,155.97 175.97,155.78 170.55,154.73 162.33,154.92" fill="#a6d96a"/>
<polygon points="302.50,162.29 309.96,162.06 303.45,160.96 296.02,161.19" fill="#d9ef8b"/>
<polygon points="82.37,152.05 91.14,151.87 86.41,150.86 77.69,151.03" fill="#a6d96a"/>
<polygon points="217.26,158.37 225.23,158.16 219.40,157.09 211.47,157.30" fill="#d9ef8b"/>
<polygon points="131.89,154.44 140.37,154.25 135.24,153.22 126.79,153.40" fill="#a6d96a"/>
<polygon points="266.88,160.77 274.56,160.54 268.33,159.46 260.67,159.67" fill="#d9ef8b"/>
<polygon points="181.48,156.84 189.67,156.64 184.13,155.58 175.97,155.78" fill="#a6d96a"/>
<polygon points="95.95,152.90 104.66,152.73 99.81,151.70 91.14,151.87" fill="#a6d96a"/>
<polygon points="231.14,159.24 239.05,159.02 233.10,157.95 225.23,158.16" fill="#d9ef8b"/>
<polygon points="145.59,155.30 154.01,155.11 148.75,154.07 140.37,154.25" fill="#a6d96a"/>
<polygon points="280.89,161.64 288.50,161.41 282.14,160.32 274.56,160.54" fill="#d9ef8b"/>
<polygon points="195.30,157.71 203.43,157.50 197.77,156.44 189.67,156.64" fill="#a6d96a"/>
<polygon points="109.60,153.76 118.24,153.58 113.27,152.55 104.66,152.73" fill="#a6d96a"/>
<polygon points="245.09,160.12 252.93,159.89 246.86,158.81 239.05,159.02" fill="#d9ef8b"/>
<polygon points="159.36,156.17 167.71,155.97 162.33,154.92 154.01,155.11" fill="#a6d96a"/>
<polygon points="294.96,162.53 302.50,162.29 296.02,161.19 288.50,161.41" fill="#d9ef8b"/>
<polygon points="73.49,152.22 82.37,152.05 77.69,151.03 68.85,151.19" fill="#a6d96a"/>
<polygon points="209.19,158.58 217.26,158.37 211.47,157.30 203.43,157.50" fill="#a6d96a"/>
<polygon points="123.30,154.63 131.89,154.44 126.79,153.40 118.24,153.58" fill="#a6d96a"/>
<polygon points="259.11,160.99 266.88,160.77 260.67,159.67 252.93,159.89" fill="#d9ef8b"/>
<polygon points="173.18,157.04 181.48,156.84 175.97,155.78 167.71,155.97" fill="#a6d96a"/>
<polygon points="309.10,163.41 316.57,163.17 309.96,162.06 302.50,162.29" fill="#d9ef8b"/>
<polygon points="87.14,153.08 95.95,152.90 91.14,151.87 82.37,152.05" fill="#a6d96a"/>
<polygon points="223.14,159.46 231.14,159.24 225.23,158.16 217.26,158.37" fill="#a6d96a"/>
<polygon points="137.07,155.50 145.59,155.30 140.37,154.25 131.89,154.44" fill="#a6d96a"/>
<polygon points="273.18,161.88 280.89,161.64 274.56,160.54 266.88,160.77" fill="#d9ef8b"/>
<polygon points="187.07,157.92 195.30,157.71 189.67,156.64 181.48,156.84" fill="#a6d96a"/>
<polygon points="100.84,153.95 109.60,153.76 104.66,152.73 95.95,152.90" fill="#a6d96a"/>
<polygon points="237.16,160.34 245.09,160.12 239.05,159.02 231.14,159.24" fill="#a6d96a"/>
<polygon points="150.90,156.37 159.36,156.17 154.01,155.11 145.59,155.30" fill="#a6d96a"/>
<polygon points="287.32,162.77 294.96,162.53 288.50,161.41 280.89,161.64" fill="#d9ef8b"/>
<polygon points="201.03,158.80 209.19,158.58 203.43,157.50 195.30,157.71" fill="#a6d96a"/>
<polygon points="114.61,154.82 123.30,154.63 118.24,153.58 109.60,153.76" fill="#a6d96a"/>
<polygon points="251.24,161.22 259.11,160.99 252.93,159.89 245.09,160.12" fill="#a6d96a"/>
<polygon points="164.79,157.25 173.18,157.04 167.71,155.97 159.36,156.17" fill="#a6d96a"/>
<polygon points="301.53,163.66 309.10,163.41 302.50,162.29 294.96,162.53" fill="#d9ef8b"/>
<polygon points="78.21,153.27 87.14,153.08 82.37,152.05 73.49,152.22" fill="#a6d96a"/>
<polygon points="215.05,159.68 223.14,159.46 217.26,158.37 209.19,158.58" fill="#a6d96a"/>
<polygon points="128.44,155.70 137.07,155.50 131.89,154.44 123.30,154.63" fill="#a6d96a"/>
<polygon points="265.39,162.11 273.18,161.88 266.88,160.77 259.11,160.99" fill="#a6d96a"/>
<polygon points="178.75,158.13 187.07,157.92 181.48,156.84 173.18,157.04" fill="#a6d96a"/>
<polygon points="315.80,164.55 323.30,164.30 316.57,163.17 309.10,163.41" fill="#d9ef8b"/>
<polygon points="91.98,154.14 100.84,153.95 95.95,152.90 87.14,153.08" fill="#a6d96a"/>
<polygon points="229.13,160.57 237.16,160.34 231.14,159.24 223.14,159.46" fill="#a6d96a"/>
<polygon points="142.33,156.57 150.90,156.37 145.59,155.30 137.07,155.50" fill="#a6d96a"/>
<polygon points="279.59,163.01 287.32,162.77 280.89,161.64 273.18,161.88" fill="#a6d96a"/>
<polygon points="192.77,159.01 201.03,158.80 195.30,157.71 187.07,157.92" fill="#a6d96a"/>
<polygon points="105.81,155.01 114.61,154.82 109.60,153.76 100.84,153.95" fill="#a6d96a"/>
<polygon points="243.28,161.46 251.24,161.22 245.09,160.12 237.16,160.34" fill="#a6d96a"/>
<polygon points="156.29,157.46 164.79,157.25 159.36,156.17 150.90,156.37" fill="#a6d96a"/>
<polygon points="293.87,163.90 301.53,163.66 294.96,162.53 287.32,162.77" fill="#a6d96a"/>
<polygon points="206.85,159.90 215.05,159.68 209.19,158.58 201.03,158.80" fill="#a6d96a"/>
<polygon points="119.71,155.89 128.44,155.70 123.30,154.63 114.61,154.82" fill="#a6d96a"/>
<polygon points="257.49,162.35 265.39,162.11 259.11,160.99 251.24,161.22" fill="#a6d96a"/>
<polygon points="170.32,158.34 178.75,158.13 173.18,157.04 164.79,157.25" fill="#a6d96a"/>
<polygon points="308.21,164.81 315.80,164.55 309.10,163.41 301.53,163.66" fill="#a6d96a"/>
<polygon points="83.01,154.33 91.98,154.14 87.14,153.08 78.21,153.27" fill="#a6d96a"/>
<polygon points="221.00,160.80 229.13,160.57 223.14,159.46 215.05,159.68" fill="#a6d96a"/>
<polygon points="133.67,156.78 142.33,156.57 137.07,155.50 128.44,155.70" fill="#a6d96a"/>
<polygon points="271.77,163.25 279.59,163.01 273.18,161.88 265.39,162.11" fill="#a6d96a"/>
<polygon points="184.40,159.23 192.77,159.01 187.07,157.92 178.75,158.13" fill="#a6d96a"/>
<polygon points="322.62,165.71 330.14,165.45 323.30,164.30 315.80,164.55" fill="#a6d96a"/>
<polygon points="96.91,155.21 105.81,155.01 100.84,153.95 91.98,154.14" fill="#a6d96a"/>
<polygon points="235.22,161.69 243.28,161.46 237.16,160.34 229.13,160.57" fill="#a6d96a"/>
<polygon points="147.69,157.67 156.29,157.46 150.90,156.37 142.33,156.57" fill="#a6d96a"/>
<polygon points="286.11,164.16 293.87,163.90 287.32,162.77 279.59,163.01" fill="#a6d96a"/>
<polygon points="198.56,160.13 206.85,159.90 201.03,158.80 192.77,159.01" fill="#a6d96a"/>
<polygon points="110.87,156.10 119.71,155.89 114.61,154.82 105.81,155.01" fill="#a6d96a"/>
<polygon points="249.50,162.59 257.49,162.35 251.24,161.22 243.28,161.46" fill="#a6d96a"/>
<polygon points="161.78,158.56 170.32,158.34 164.79,157.25 156.29,157.46" fill="#a6d96a"/>
<polygon points="300.53,165.06 308.21,164.81 301.53,163.66 293.87,163.90" fill="#a6d96a"/>
<polygon points="212.77,161.03 221.00,160.80 215.05,159.68 206.85,159.90" fill="#a6d96a"/>
<polygon points="124.89,156.99 133.67,156.78 128.44,155.70 119.71,155.89" fill="#a6d96a"/>
<polygon points="263.85,163.50 271.77,163.25 265.39,162.11 257.49,162.35" fill="#a6d96a"/>
<polygon points="175.94,159.46 184.40,159.23 178.75,158.13 170.32,158.34" fill="#a6d96a"/>
<polygon points="315.00,165.98 322.62,165.71 315.80,164.55 308.21,164.81" fill="#a6d96a"/>
<polygon points="87.89,155.41 96.91,155.21 91.98,154.14 83.01,154.33" fill="#a6d96a"/>
<polygon points="227.06,161.93 235.22,161.69 229.13,160.57 221.00,160.80" fill="#a6d96a"/>
<polygon points="138.98,157.88 147.69,157.67 142.33,156.57 133.67,156.78" fill="#a6d96a"/>
<polygon points="278.26,164.41 286.11,164.16 279.59,163.01 271.77,163.25" fill="#a6d96a"/>
<polygon points="190.16,160.36 198.56,160.13 192.77,159.01 184.40,159.23" fill="#a6d96a"/>
<polygon points="329.55,166.89 337.09,166.62 330.14,165.45 322.62,165.71" fill="#a6d96a"/>
<polygon points="101.92,156.30 110.87,156.10 105.81,155.01 96.91,155.21" fill="#a6d96a"/>
<polygon points="241.41,162.84 249.50,162.59 243.28,161.46 235.22,161.69" fill="#a6d96a"/>
<polygon points="153.14,158.78 161.78,158.56 156.29,157.46 147.69,157.67" fill="#a6d96a"/>
<polygon points="292.75,165.32 300.53,165.06 293.87,163.90 286.11,164.16" fill="#a6d96a"/>
<polygon points="204.44,161.26 212.77,161.03 206.85,159.90 198.56,160.13" fill="#a6d96a"/>
<polygon points="116.01,157.20 124.89,156.99 119.71,155.89 110.87,156.10" fill="#a6d96a"/>
<polygon points="255.83,163.75 263.85,163.50 257.49,162.35 249.50,162.59" fill="#a6d96a"/>
<polygon points="167.36,159.68 175.94,159.46 170.32,158.34 161.78,158.56" fill="#a6d96a"/>
<polygon points="307.30,166.24 315.00,165.98 308.21,164.81 300.53,165.06" fill="#a6d96a"/>
<polygon points="218.80,162.17 227.06,161.93 221.00,160.80 212.77,161.03" fill="#a6d96a"/>
<polygon points="130.17,158.10 138.98,157.88 133.67,156.78 124.89,156.99" fill="#a6d96a"/>
<polygon points="270.32,164.67 278.26,164.41 271.77,163.25 263.85,163.50" fill="#a6d96a"/>
<polygon points="181.65,160.59 190.16,160.36 184.40,159.23 175.94,159.46" fill="#a6d96a"/>
<polygon points="321.92,167.16 329.55,166.89 322.62,165.71 315.00,165.98" fill="#a6d96a"/>
<polygon points="92.86,156.51 101.92,156.30 96.91,155.21 87.89,155.41" fill="#a6d96a"/>
<polygon points="233.22,163.09 241.41,162.84 235.22,161.69 227.06,161.93" fill="#a6d96a"/>
<polygon points="144.39,159.00 153.14,158.78 147.69,157.67 138.98,157.88" fill="#a6d96a"/>
<polygon points="284.87,165.59 292.75,165.32 286.11,164.16 278.26,164.41" fill="#a6d96a"/>
<polygon points="196.01,161.50 204.44,161.26 198.56,160.13 190.16,160.36" fill="#a6d96a"/>
<polygon points="336.60,168.09 344.16,167.81 337.09,166.62 329.55,166.89" fill="#a6d96a"/>
<polygon points="107.02,157.41 116.01,157.20 110.87,156.10 101.92,156.30" fill="#a6d96a"/>
<polygon points="247.71,164.00 255.83,163.75 249.50,162.59 241.41,162.84" fill="#a6d96a"/>
<polygon points="158.68,159.91 167.36,159.68 161.78,158.56 153.14,158.78" fill="#a6d96a"/>
<polygon points="299.49,166.51 307.30,166.24 300.53,165.06 292.75,165.32" fill="#a6d96a"/>
<polygon points="210.43,162.42 218.80,162.17 212.77,161.03 204.44,161.26" fill="#a6d96a"/>
<polygon points="121.24,158.32 130.17,158.10 124.89,156.99 116.01,157.20" fill="#a6d96a"/>
<polygon points="262.27,164.93 270.32,164.67 263.85,163.50 255.83,163.75" fill="#a6d96a"/>
<polygon points="173.04,160.83 181.65,160.59 175.94,159.46 167.36,159.68" fill="#a6d96a"/>
<polygon points="314.18,167.44 321.92,167.16 315.00,165.98 307.30,166.24" fill="#a6d96a"/>
<polygon points="224.93,163.34 233.22,163.09 227.06,161.93 218.80,162.17" fill="#a6d96a"/>
<polygon points="135.53,159.23 144.39,159.00 138.98,157.88 130.17,158.10" fill="#a6d96a"/>
<polygon points="276.89,165.85 284.87,165.59 278.26,164.41 270.32,164.67" fill="#a6d96a"/>
<polygon points="187.47,161.74 196.01,161.50 190.16,160.36 181.65,160.59" fill="#a6d96a"/>
<polygon points="328.95,168.37 336.60,168.09 329.55,166.89 321.92,167.16" fill="#a6d96a"/>
<polygon points="97.91,157.63 107.02,157.41 101.92,156.30 92.86,156.51" fill="#a6d96a"/>
<polygon points="239.49,164.26 247.71,164.00 241.41,162.84 233.22,163.09" fill="#a6d96a"/>
<polygon points="149.89,160.14 158.68,159.91 153.14,158.78 144.39,159.00" fill="#a6d96a"/>
<polygon points="291.59,166.79 299.49,166.51 292.75,165.32 284.87,165.59" fill="#a6d96a"/>
<polygon points="201.96,162.67 210.43,162.42 204.44,161.26 196.01,161.50" fill="#a6d96a"/>
<polygon points="112.20,158.54 121.24,158.32 116.01,157.20 107.02,157.41" fill="#a6d96a"/>
<polygon points="254.12,165.19 262.27,164.93 255.83,163.75 247.71,164.00" fill="#a6d96a"/>
<polygon points="164.32,161.06 173.04,160.83 167.36,159.68 158.68,159.91" fill="#a6d96a"/>
<polygon points="306.36,167.72 314.18,167.44 307.30,166.24 299.49,166.51" fill="#a6d96a"/>
<polygon points="216.53,163.59 224.93,163.34 218.80,162.17 210.43,162.42" fill="#a6d96a"/>
<polygon points="126.56,159.46 135.53,159.23 130.17,158.10 121.24,158.32" fill="#a6d96a"/>
<polygon points="268.82,166.12 276.89,165.85 270.32,164.67 262.27,164.93" fill="#a6d96a"/>
<polygon points="178.82,161.99 187.47,161.74 181.65,160.59 173.04,160.83" fill="#a6d96a"/>
<polygon points="321.19,168.66 328.95,168.37 321.92,167.16 314.18,167.44" fill="#a6d96a"/>
<polygon points="231.16,164.52 239.49,164.26 233.22,163.09 224.93,163.34" fill="#a6d96a"/>
<polygon points="140.99,160.38 149.89,160.14 144.39,159.00 135.53,159.23" fill="#a6d96a"/>
<polygon points="283.59,167.06 291.59,166.79 284.87,165.59 276.89,165.85" fill="#a6d96a"/>
<polygon points="193.39,162.92 201.96,162.67 196.01,161.50 187.47,161.74" fill="#a6d96a"/>
<polygon points="103.05,158.76 112.20,158.54 107.02,157.41 97.91,157.63" fill="#a6d96a"/>
<polygon points="245.86,165.46 254.12,165.19 247.71,164.00 239.49,164.26" fill="#a6d96a"/>
<polygon points="155.49,161.30 164.32,161.06 158.68,159.91 149.89,160.14" fill="#a6d96a"/>
<polygon points="298.43,168.00 306.36,167.72 299.49,166.51 291.59,166.79" fill="#a6d96a"/>
<polygon points="208.02,163.85 216.53,163.59 210.43,162.42 201.96,162.67" fill="#a6d96a"/>
<polygon points="117.48,159.69 126.56,159.46 121.24,158.32 112.20,158.54" fill="#a6d96a"/>
<polygon points="260.64,166.40 268.82,166.12 262.27,164.93 254.12,165.19" fill="#a6d96a"/>
<polygon points="170.06,162.24 178.82,161.99 173.04,160.83 164.32,161.06" fill="#a6d96a"/>
<polygon points="313.34,168.95 321.19,168.66 314.18,167.44 306.36,167.72" fill="#a6d96a"/>
<polygon points="222.73,164.79 231.16,164.52 224.93,163.34 216.53,163.59" fill="#a6d96a"/>
<polygon points="131.98,160.62 140.99,160.38 135.53,159.23 126.56,159.46" fill="#a6d96a"/>
<polygon points="275.48,167.34 283.59,167.06 276.89,165.85 268.82,166.12" fill="#a6d96a"/>
<polygon points="184.70,163.17 193.39,162.92 187.47,161.74 178.82,161.99" fill="#a6d96a"/>
<polygon points="237.51,165.73 245.86,165.46 239.49,164.26 231.16,164.52" fill="#a6d96a"/>
<polygon points="146.55,161.55 155.49,161.30 149.89,160.14 140.99,160.38" fill="#a6d96a"/>
<polygon points="290.40,168.29 298.43,168.00 291.59,166.79 283.59,167.06" fill="#a6d96a"/>
<polygon points="199.41,164.11 208.02,163.85 201.96,162.67 193.39,162.92" fill="#a6d96a"/>
<polygon points="108.28,159.92 117.48,159.69 112.20,158.54 103.05,158.76" fill="#a6d96a"/>
<polygon points="252.35,166.68 260.64,166.40 254.12,165.19 245.86,165.46" fill="#a6d96a"/>
<polygon points="161.19,162.49 170.06,162.24 164.32,161.06 155.49,161.30" fill="#a6d96a"/>
<polygon points="305.39,169.24 313.34,168.95 306.36,167.72 298.43,168.00" fill="#a6d96a"/>
<polygon points="214.19,165.05 222.73,164.79 216.53,163.59 208.02,163.85" fill="#a6d96a"/>
<polygon points="122.85,160.86 131.98,160.62 126.56,159.46 117.48,159.69" fill="#a6d96a"/>
<polygon points="267.27,167.63 275.48,167.34 268.82,166.12 260.64,166.40" fill="#a6d96a"/>
<polygon points="175.90,163.43 184.70,163.17 178.82,161.99 170.06,162.24" fill="#a6d96a"/>
<polygon points="229.04,166.00 237.51,165.73 231.16,164.52 222.73,164.79" fill="#a6d96a"/>
<polygon points="137.49,161.80 146.55,161.55 140.99,160.38 131.98,160.62" fill="#a6d96a"/>
<polygon points="282.27,168.58 290.40,168.29 283.59,167.06 275.48,167.34" fill="#a6d96a"/>
<polygon points="190.68,164.37 199.41,164.11 193.39,162.92 184.70,163.17" fill="#a6d96a"/>
<polygon points="243.96,166.96 252.35,166.68 245.86,165.46 237.51,165.73" fill="#a6d96a"/>
<polygon points="152.20,162.74 161.19,162.49 155.49,161.30 146.55,161.55" fill="#a6d96a"/>
<polygon points="297.33,169.54 305.39,169.24 298.43,168.00 290.40,168.29" fill="#a6d96a"/>
<polygon points="205.54,165.32 214.19,165.05 208.02,163.85 199.41,164.11" fill="#a6d96a"/>
<polygon points="113.60,161.10 122.85,160.86 117.48,159.69 108.28,159.92" fill="#a6d96a"/>
<polygon points="258.96,167.91 267.27,167.63 260.64,166.40 252.35,166.68" fill="#a6d96a"/>
<polygon points="166.99,163.69 175.90,163.43 170.06,162.24 161.19,162.49" fill="#a6d96a"/>
<polygon points="220.46,166.28 229.04,166.00 222.73,164.79 214.19,165.05" fill="#a6d96a"/>
<polygon points="128.31,162.05 137.49,161.80 131.98,160.62 122.85,160.86" fill="#a6d96a"/>
<polygon points="274.03,168.88 282.27,168.58 275.48,167.34 267.27,167.63" fill="#a6d96a"/>
<polygon points="181.84,164.64 190.68,164.37 184.70,163.17 175.90,163.43" fill="#a6d96a"/>
<polygon points="235.46,167.24 243.96,166.96 237.51,165.73 229.04,166.00" fill="#a6d96a"/>
<polygon points="143.10,163.00 152.20,162.74 146.55,161.55 137.49,161.80" fill="#a6d96a"/>
<polygon points="289.17,169.84 297.33,169.54 290.40,168.29 282.27,168.58" fill="#a6d96a"/>
<polygon points="196.77,165.60 205.54,165.32 199.41,164.11 190.68,164.37" fill="#a6d96a"/>
<polygon points="250.54,168.21 258.96,167.91 252.35,166.68 243.96,166.96" fill="#a6d96a"/>
<polygon points="157.96,163.95 166.99,163.69 161.19,162.49 152.20,162.74" fill="#a6d96a"/>
<polygon points="211.77,166.56 220.46,166.28 214.19,165.05 205.54,165.32" fill="#a6d96a"/>
<polygon points="119.02,162.30 128.31,162.05 122.85,160.86 113.60,161.10" fill="#66bd63"/>
<polygon points="265.68,169.17 274.03,168.88 267.27,167.63 258.96,167.91" fill="#a6d96a"/>
<polygon points="172.89,164.91 181.84,164.64 175.90,163.43 166.99,163.69" fill="#a6d96a"/>
<polygon points="226.85,167.53 235.46,167.24 229.04,166.00 220.46,166.28" fill="#a6d96a"/>
<polygon points="133.88,163.26 143.10,163.00 137.49,161.80 128.31,162.05" fill="#66bd63"/>
<polygon points="280.90,170.15 289.17,169.84 282.27,168.58 274.03,168.88" fill="#a6d96a"/>
<polygon points="187.89,165.88 196.77,165.60 190.68,164.37 181.84,164.64" fill="#a6d96a"/>
<polygon points="242.00,168.50 250.54,168.21 243.96,166.96 235.46,167.24" fill="#a6d96a"/>
<polygon points="148.81,164.22 157.96,163.95 152.20,162.74 143.10,163.00" fill="#66bd63"/>
<polygon points="202.97,166.85 211.77,166.56 205.54,165.32 196.77,165.60" fill="#a6d96a"/>
<polygon points="257.23,169.48 265.68,169.17 258.96,167.91 250.54,168.21" fill="#a6d96a"/>
<polygon points="163.82,165.19 172.89,164.91 166.99,163.69 157.96,163.95" fill="#66bd63"/>
<polygon points="218.13,167.82 226.85,167.53 220.46,166.28 211.77,166.56" fill="#66bd63"/>
<polygon points="124.53,163.52 133.88,163.26 128.31,162.05 119.02,162.30" fill="#66bd63"/>
<polygon points="272.53,170.46 280.90,170.15 274.03,168.88 265.68,169.17" fill="#a6d96a"/>
<polygon points="178.90,166.16 187.89,165.88 181.84,164.64 172.89,164.91" fill="#66bd63"/>
<polygon points="233.36,168.80 242.00,168.50 235.46,167.24 226.85,167.53" fill="#66bd63"/>
<polygon points="139.54,164.49 148.81,164.22 143.10,163.00 133.88,163.26" fill="#66bd63"/>
<polygon points="194.05,167.13 202.97,166.85 196.77,165.60 187.89,165.88" fill="#66bd63"/>
<polygon points="248.66,169.78 257.23,169.48 250.54,168.21 242.00,168.50" fill="#66bd63"/>
<polygon points="154.62,165.46 163.82,165.19 157.96,163.95 148.81,164.22" fill="#66bd63"/>
<polygon points="209.29,168.12 218.13,167.82 211.77,166.56 202.97,166.85" fill="#66bd63"/>
<polygon points="264.04,170.77 272.53,170.46 265.68,169.17 257.23,169.48" fill="#66bd63"/>
<polygon points="169.78,166.44 178.90,166.16 172.89,164.91 163.82,165.19" fill="#66bd63"/>
<polygon points="224.59,169.10 233.36,168.80 226.85,167.53 218.13,167.82" fill="#66bd63"/>
<polygon points="130.15,164.77 139.54,164.49 133.88,163.26 124.53,163.52" fill="#66bd63"/>
<polygon points="185.02,167.43 194.05,167.13 187.89,165.88 178.90,166.16" fill="#66bd63"/>
<polygon points="239.98,170.09 248.66,169.78 242.00,168.50 233.36,168.80" fill="#66bd63"/>
<polygon points="145.31,165.75 154.62,165.46 148.81,164.22 139.54,164.49" fill="#66bd63"/>
<polygon points="200.33,168.42 209.29,168.12 202.97,166.85 194.05,167.13" fill="#66bd63"/>
<polygon points="255.44,171.09 264.04,170.77 257.23,169.48 248.66,169.78" fill="#66bd63"/>
<polygon points="160.55,166.73 169.78,166.44 163.82,165.19 154.62,165.46" fill="#66bd63"/>
<polygon points="215.72,169.41 224.59,169.10 218.13,167.82 209.29,168.12" fill="#66bd63"/>
<polygon points="175.86,167.72 185.02,167.43 178.90,166.16 169.78,166.44" fill="#66bd63"/>
<polygon points="231.18,170.41 239.98,170.09 233.36,168.80 224.59,169.10" fill="#66bd63"/>
<polygon points="135.87,166.03 145.31,165.75 139.54,164.49 130.15,164.77" fill="#66bd63"/>
<polygon points="191.25,168.72 200.33,168.42 194.05,167.13 185.02,167.43" fill="#66bd63"/>
<polygon points="246.72,171.41 255.44,171.09 248.66,169.78 239.98,170.09" fill="#66bd63"/>
<polygon points="151.19,167.03 160.55,166.73 154.62,165.46 145.31,165.75" fill="#66bd63"/>
<polygon points="206.72,169.72 215.72,169.41 209.29,168.12 200.33,168.42" fill="#66bd63"/>
<polygon points="166.58,168.02 175.86,167.72 169.78,166.44 160.55,166.73" fill="#66bd63"/>
<polygon points="222.26,170.73 231.18,170.41 224.59,169.10 215.72,169.41" fill="#66bd63"/>
<polygon points="182.05,169.03 191.25,168.72 185.02,167.43 175.86,167.72" fill="#66bd63"/>
<polygon points="237.89,171.74 246.72,171.41 239.98,170.09 231.18,170.41" fill="#66bd63"/>
<polygon points="141.70,167.32 151.19,167.03 145.31,165.75 135.87,166.03" fill="#66bd63"/>
<polygon points="197.60,170.04 206.72,169.72 200.33,168.42 191.25,168.72" fill="#66bd63"/>
<polygon points="157.17,168.33 166.58,168.02 160.55,166.73 151.19,167.03" fill="#66bd63"/>
<polygon points="213.23,171.05 222.26,170.73 215.72,169.41 206.72,169.72" fill="#66bd63"/>
<polygon points="172.72,169.34 182.05,169.03 175.86,167.72 166.58,168.02" fill="#66bd63"/>
<polygon points="228.94,172.07 237.89,171.74 231.18,170.41 222.26,170.73" fill="#66bd63"/>
<polygon points="188.35,170.36 197.60,170.04 191.25,168.72 182.05,169.03" fill="#66bd63"/>
<polygon points="147.63,168.64 157.17,168.33 151.19,167.03 141.70,167.32" fill="#66bd63"/>
<polygon points="204.07,171.38 213.23,171.05 206.72,169.72 197.60,170.04" fill="#66bd63"/>
<polygon points="163.27,169.66 172.72,169.34 166.58,168.02 157.17,168.33" fill="#66bd63"/>
<polygon points="219.86,172.40 228.94,172.07 222.26,170.73 213.23,171.05" fill="#66bd63"/>
<polygon points="178.98,170.68 188.35,170.36 182.05,169.03 172.72,169.34" fill="#66bd63"/>
<polygon points="194.78,171.71 204.07,171.38 197.60,170.04 188.35,170.36" fill="#66bd63"/>
<polygon points="153.68,169.98 163.27,169.66 157.17,168.33 147.63,168.64" fill="#66bd63"/>
<polygon points="210.66,172.74 219.86,172.40 213.23,171.05 204.07,171.38" fill="#66bd63"/>
<polygon points="169.48,171.01 178.98,170.68 172.72,169.34 163.27,169.66" fill="#66bd63"/>
<polygon points="185.36,172.05 194.78,171.71 188.35,170.36 178.98,170.68" fill="#66bd63"/>
<polygon points="201.33,173.09 210.66,172.74 204.07,171.38 194.78,171.71" fill="#66bd63"/>
<polygon points="159.85,171.34 169.48,171.01 163.27,169.66 153.68,169.98" fill="#66bd63"/>
<polygon points="175.82,172.39 185.36,172.05 178.98,170.68 169.48,171.01" fill="#66bd63"/>
<polygon points="191.87,173.44 201.33,173.09 194.78,171.71 185.36,172.05" fill="#66bd63"/>
<polygon points="166.13,172.73 175.82,172.39 169.48,171.01 159.85,171.34" fill="#66bd63"/>
<polygon points="182.27,173.79 191.87,173.44 185.36,172.05 175.82,172.39" fill="#66bd63"/>
<polygon points="172.54,174.15 182.27,173.79 175.82,172.39 166.13,172.73" fill="#66bd63"/>
</g>
<path d="M172.54 174.15 L177.42 173.97 L182.27 173.79 L187.09 173.61 L191.87 173.44 L196.61 173.26 L201.33 173.09 L206.01 172.92 L210.66 172.74 L215.27 172.57 L219.86 172.40 L224.41 172.24 L228.94 172.07 L233.43 171.90 L237.89 171.74 L242.32 171.57 L246.72 171.41 L251.10 171.25 L255.44 171.09 L259.75 170.93 L264.04 170.77 L268.30 170.61 L272.53 170.46 L276.73 170.30 L280.90 170.15 L285.05 170.00 L289.17 169.84 L293.26 169.69 L297.33 169.54 L301.37 169.39 L305.39 169.24 L309.38 169.10 L313.34 168.95 L317.28 168.81 L321.19 168.66 L325.08 168.52 L328.95 168.37 L332.79 168.23 L336.60 168.09 L340.40 167.95 L344.16 167.81 L344.16 167.81 L340.61 167.21 L337.09 166.62 L333.60 166.03 L330.14 165.45 L326.70 164.87 L323.30 164.30 L319.92 163.73 L316.57 163.17 L313.25 162.61 L309.96 162.06 L306.69 161.51 L303.45 160.96 L300.24 160.42 L297.05 159.89 L293.89 159.35 L290.75 158.83 L287.64 158.30 L284.55 157.78 L281.49 157.27 L278.45 156.76 L275.43 156.25 L272.44 155.74 L269.47 155.25 L266.53 154.75 L263.61 154.26 L260.71 153.77 L257.83 153.29 L254.97 152.81 L252.14 152.33 L249.33 151.86 L246.54 151.39 L243.77 150.92 L241.02 150.46 L238.29 150.00 L235.58 149.54 L232.89 149.09 L230.22 148.64 L227.57 148.20 L224.94 147.75 L222.33 147.31 L222.33 147.31 L218.79 147.38 L215.23 147.44 L211.65 147.51 L208.05 147.57 L204.44 147.64 L200.80 147.70 L197.14 147.77 L193.47 147.84 L189.77 147.90 L186.05 147.97 L182.31 148.04 L178.56 148.11 L174.78 148.18 L170.98 148.25 L167.16 148.31 L163.32 148.38 L159.46 148.45 L155.57 148.53 L151.67 148.60 L147.74 148.67 L143.79 148.74 L139.82 148.81 L135.82 148.88 L131.81 148.96 L127.77 149.03 L123.70 149.10 L119.62 149.18 L115.51 149.25 L111.37 149.33 L107.22 149.40 L103.03 149.48 L98.83 149.56 L94.60 149.63 L90.34 149.71 L86.07 149.79 L81.76 149.86 L77.43 149.94 L73.08 150.02 L68.69 150.10 L64.29 150.18 L64.29 150.18 L66.56 150.69 L68.85 151.19 L71.16 151.70 L73.49 152.22 L75.84 152.74 L78.21 153.27 L80.60 153.79 L83.01 154.33 L85.44 154.87 L87.89 155.41 L90.36 155.96 L92.86 156.51 L95.37 157.06 L97.91 157.63 L100.47 158.19 L103.05 158.76 L105.65 159.34 L108.28 159.92 L110.93 160.51 L113.60 161.10 L116.30 161.70 L119.02 162.30 L121.76 162.91 L124.53 163.52 L127.33 164.14 L130.15 164.77 L133.00 165.40 L135.87 166.03 L138.77 166.67 L141.70 167.32 L144.65 167.98 L147.63 168.64 L150.65 169.30 L153.68 169.98 L156.75 170.66 L159.85 171.34 L162.98 172.03 L166.13 172.73 L169.32 173.44 L172.54 174.15 Z" fill="none" stroke="#222" stroke-opacity="0.8" stroke-width="0.45"/>
<g fill="none" stroke="#0714e4" stroke-width="1.30" stroke-linecap="butt">
<path d="M64.29 150.18 L67.63 150.39 L70.98 150.60 L74.33 150.81 L77.69 151.03 L81.04 151.24 L84.41 151.45 L87.77 151.66 L91.14 151.87 L94.52 152.09 L97.90 152.30 L101.28 152.51 L104.66 152.73 L108.05 152.94 L111.45 153.15 L114.84 153.37 L118.24 153.58 L121.65 153.80 L125.06 154.01 L128.47 154.23 L131.89 154.44 L135.31 154.66 L138.73 154.87 L142.16 155.09 L145.59 155.30 L149.03 155.52 L152.46 155.74 L155.91 155.95 L159.36 156.17 L162.81 156.39 L166.26 156.61 L169.72 156.82 L173.18 157.04 L176.65 157.26 L180.12 157.48 L183.60 157.70 L187.07 157.92 L190.56 158.14 L194.04 158.36 L197.53 158.58 L201.03 158.80 L204.53 159.02 L208.03 159.24 L211.54 159.46 L215.05 159.68 L218.56 159.90 L222.08 160.12 L225.60 160.34 L229.13 160.57 L232.66 160.79 L236.20 161.01 L239.74 161.23 L243.28 161.46 L246.83 161.68 L250.38 161.90 L253.93 162.13 L257.49 162.35 L261.06 162.58 L264.62 162.80 L268.19 163.03 L271.77 163.25 L275.35 163.48 L278.93 163.70 L282.52 163.93 L286.11 164.16 L289.71 164.38 L293.31 164.61 L296.92 164.84 L300.53 165.06 L304.14 165.29 L307.76 165.52 L311.38 165.75 L315.00 165.98 L318.63 166.20 L322.27 166.43 L325.91 166.66 L329.55 166.89 L333.20 167.12 L336.85 167.35 L340.50 167.58 L344.16 167.81"/>
<path d="M172.54 174.15 L173.37 173.70 L174.19 173.26 L175.01 172.82 L175.82 172.39 L176.62 171.95 L177.41 171.53 L178.20 171.10 L178.98 170.68 L179.76 170.26 L180.53 169.85 L181.29 169.44 L182.05 169.03 L182.80 168.62 L183.54 168.22 L184.28 167.82 L185.02 167.43 L185.74 167.03 L186.47 166.65 L187.18 166.26 L187.89 165.88 L188.60 165.50 L189.30 165.12 L189.99 164.75 L190.68 164.37 L191.37 164.01 L192.04 163.64 L192.72 163.28 L193.39 162.92 L194.05 162.56 L194.71 162.20 L195.36 161.85 L196.01 161.50 L196.65 161.15 L197.29 160.81 L197.93 160.47 L198.56 160.13 L199.18 159.79 L199.80 159.46 L200.42 159.13 L201.03 158.80 L201.64 158.47 L202.24 158.14 L202.84 157.82 L203.43 157.50 L204.02 157.18 L204.61 156.87 L205.19 156.55 L205.77 156.24 L206.34 155.93 L206.91 155.63 L207.48 155.32 L208.04 155.02 L208.60 154.72 L209.15 154.42 L209.70 154.12 L210.25 153.83 L210.79 153.53 L211.33 153.24 L211.87 152.95 L212.40 152.67 L212.93 152.38 L213.45 152.10 L213.97 151.82 L214.49 151.54 L215.00 151.26 L215.52 150.99 L216.02 150.71 L216.53 150.44 L217.03 150.17 L217.53 149.90 L218.02 149.64 L218.51 149.37 L219.00 149.11 L219.49 148.85 L219.97 148.59 L220.45 148.33 L220.92 148.07 L221.40 147.82 L221.86 147.57 L222.33 147.31"/>
</g>
<g fill="none" stroke="#1a1a1a" stroke-width="0.85" stroke-linecap="round">
<path d="M61.45 92.51 L223.25 62.93 L347.59 108.18 L172.34 148.88 Z"/>
<path d="M61.45 92.51 L70.27 272.05"/>
<path d="M347.59 108.18 L336.87 294.58"/>
<path d="M172.34 148.88 L174.00 354.00"/>
<path d="M70.27 272.05 L174.00 354.00 L336.87 294.58"/>
<path d="M61.45 92.51 L46.25 91.61"/>
<path d="M63.70 138.27 L48.50 137.37"/>
<path d="M65.87 182.50 L50.67 181.60"/>
<path d="M67.98 225.27 L52.78 224.37"/>
<path d="M70.01 266.66 L54.81 265.76"/>
<path d="M93.32 290.25 L84.72 302.75"/>
<path d="M118.14 309.87 L109.54 322.37"/>
<path d="M144.95 331.05 L136.35 343.55"/>
<path d="M218.20 337.88 L224.80 352.48"/>
<path d="M259.95 322.64 L266.55 337.24"/>
<path d="M299.45 308.23 L306.05 322.83"/>
</g>
<g font-size="9.30" text-anchor="middle" fill="#111" stroke="#111" stroke-width="0.25">
<text x="30.50" y="94.60">1</text>
<text x="34.00" y="140.90">0</text>
<text x="37.30" y="184.60">−1</text>
<text x="40.30" y="227.10">−2</text>
<text x="42.80" y="268.30">−3</text>
<text x="76.30" y="317.80">1</text>
<text x="100.00" y="338.30">0</text>
<text x="127.30" y="360.80">−1</text>
<text x="231.00" y="371.30">−1</text>
<text x="273.00" y="355.10">0</text>
<text x="313.80" y="339.60">1</text>
</g>
<text transform="translate(8.10 181.60) rotate(-90.00)" font-size="9.10" text-anchor="middle" textLength="97.0" lengthAdjust="spacingAndGlyphs" fill="#111" stroke="#111" stroke-width="0.25">Relationship Satisfaction</text>
<text transform="translate(79.50 363.60) rotate(39.80)" font-size="9.10" text-anchor="middle" textLength="141.5" lengthAdjust="spacingAndGlyphs" fill="#111" stroke="#111" stroke-width="0.25">Partners&#39; Solitary Pornography Use</text>
<text transform="translate(288.00 384.00) rotate(-18.80)" font-size="9.10" text-anchor="middle" textLength="133.4" lengthAdjust="spacingAndGlyphs" fill="#111" stroke="#111" stroke-width="0.25">Actors&#39; Solitary Pornography Use</text>
<rect x="417.80" y="4.30" width="12.6" height="46.30" fill="#006837"/>
<rect x="417.80" y="50.30" width="12.6" height="46.30" fill="#1a9850"/>
<rect x="417.80" y="96.30" width="12.6" height="46.30" fill="#a6d96a"/>
<rect x="417.80" y="142.30" width="12.6" height="46.30" fill="#d9ef8b"/>
<rect x="417.80" y="188.30" width="12.6" height="46.30" fill="#ffffbf"/>
<rect x="417.80" y="234.30" width="12.6" height="46.30" fill="#fee08b"/>
<rect x="417.80" y="280.30" width="12.6" height="46.30" fill="#fdae61"/>
<rect x="417.80" y="326.30" width="12.6" height="46.30" fill="#d73027"/>
<rect x="417.80" y="372.30" width="12.6" height="46.30" fill="#a50026"/>
<g font-size="8.8" fill="#111" stroke="#111" stroke-width="0.2">
<text x="437.70" y="8.40">1.0</text>
<text x="437.70" y="58.55">0.5</text>
<text x="437.70" y="108.70">0.0</text>
<text x="437.70" y="158.85">−0.5</text>
<text x="437.70" y="209.00">−1.0</text>
<text x="437.70" y="259.15">−1.5</text>
<text x="437.70" y="309.30">−2.0</text>
<text x="437.70" y="359.45">−2.5</text>
<text x="437.70" y="409.60">−3.0</text>
</g>
<text transform="translate(408.80 213.00) rotate(-90)" font-size="8.3" text-anchor="middle" textLength="121.5" lengthAdjust="spacingAndGlyphs" fill="#111" stroke="#111" stroke-width="0.2">Level of Relationship Satisfaction</text>
<g fill="none" stroke="#444" stroke-width="0.80">
<path d="M861.50 300.63 L861.40 300.11 L861.36 299.89 L861.24 299.14 L861.23 299.11 L861.13 298.40 L861.10 298.14 L861.05 297.64 L861.01 297.19 L860.99 296.88 L860.95 296.26 L860.95 296.11 L860.93 295.36 L860.93 295.34 L860.93 294.57 L860.94 294.48 L860.96 293.78 L860.97 293.62 L861.02 292.99 L861.04 292.78 L861.10 292.19 L861.13 291.96 L861.21 291.39 L861.25 291.15 L861.35 290.57 L861.39 290.37 L861.52 289.75 L861.55 289.60 L861.72 288.92 L861.74 288.84 L861.95 288.10 L861.95 288.08 L862.17 287.37 L862.22 287.23 L862.42 286.66 L862.52 286.37 L862.68 285.96 L862.86 285.50 L862.96 285.27 L863.24 284.62 L863.25 284.59 L863.57 283.93 L863.66 283.73 L863.89 283.27"/>
<path d="M636.84 264.39 L636.72 264.84 L636.67 265.04 L636.48 265.69 L636.48 265.72 L636.28 266.35 L636.20 266.57 L636.04 267.01 L635.89 267.41 L635.79 267.69 L635.57 268.24 L635.51 268.37 L635.21 269.05 L635.20 269.06 L634.87 269.77 L634.83 269.85 L634.51 270.48 L634.44 270.63 L634.12 271.20 L634.02 271.40 L633.70 271.94 L633.57 272.16 L633.25 272.69 L633.11 272.90 L632.77 273.44 L632.64 273.64 L632.24 274.21 L632.14 274.36 L631.68 275.00 L631.62 275.08 L631.09 275.78 L631.08 275.80 L630.55 276.48 L630.44 276.61 L629.98 277.16 L629.75 277.44 L629.40 277.84 L629.02 278.28 L628.81 278.51 L628.23 279.14 L628.21 279.17 L627.59 279.82 L627.40 280.02 L626.95 280.47"/>
<path d="M845.77 306.37 L845.70 306.23 L845.44 305.69 L845.12 305.01 L845.08 304.91 L844.82 304.32 L844.54 303.64 L844.54 303.63 L844.26 302.93 L844.08 302.42 L844.01 302.24 L843.77 301.54 L843.68 301.25 L843.55 300.83 L843.35 300.13 L843.35 300.12 L843.16 299.41 L843.08 299.04 L843.00 298.69 L842.86 297.99 L842.86 297.96 L842.73 297.23 L842.69 296.98 L842.63 296.50 L842.58 295.99 L842.55 295.76 L842.50 295.04 L842.50 295.01 L842.47 294.25 L842.47 294.12 L842.47 293.49 L842.47 293.22 L842.49 292.72 L842.51 292.35 L842.55 291.95 L842.59 291.50 L842.63 291.16 L842.70 290.68 L842.74 290.37 L842.83 289.87 L842.89 289.56 L843.00 289.08 L843.08 288.75 L843.19 288.32 L843.30 287.93 L843.41 287.57 L843.56 287.09 L843.65 286.83 L843.86 286.24 L843.91 286.12 L844.19 285.42 L844.21 285.38 L844.50 284.73 L844.60 284.51 L844.82 284.05 L845.04 283.62 L845.16 283.39 L845.52 282.74 L845.53 282.72 L845.89 282.11 L846.08 281.80 L846.28 281.48 L846.68 280.86 L846.68 280.86 L847.10 280.26 L847.35 279.90 L847.53 279.66 L847.97 279.08 L848.09 278.92 L848.43 278.50 L848.89 277.93 L848.90 277.92 L849.37 277.37 L849.79 276.90 L849.86 276.82 L850.36 276.28 L850.76 275.85 L850.87 275.74"/>
<path d="M653.47 259.53 L653.49 259.65 L653.55 260.10 L653.61 260.67 L653.61 260.75 L653.65 261.25 L653.68 261.82 L653.68 261.83 L653.70 262.42 L653.70 262.85 L653.70 263.01 L653.68 263.62 L653.67 263.86 L653.65 264.22 L653.59 264.83 L653.59 264.84 L653.52 265.46 L653.48 265.78 L653.43 266.09 L653.32 266.71 L653.31 266.73 L653.18 267.38 L653.12 267.61 L653.02 268.03 L652.89 268.48 L652.83 268.70 L652.63 269.34 L652.62 269.37 L652.38 270.05 L652.33 270.18 L652.11 270.75 L652.01 270.99 L651.81 271.45 L651.66 271.80 L651.48 272.17 L651.28 272.58 L651.12 272.90 L650.87 273.35 L650.72 273.64 L650.45 274.11 L650.28 274.39 L650.00 274.85 L649.79 275.16 L649.52 275.57 L649.27 275.95 L649.03 276.29 L648.70 276.75 L648.52 276.99 L648.08 277.56 L647.99 277.69 L647.44 278.37 L647.41 278.40 L646.87 279.04 L646.68 279.25 L646.28 279.70 L645.90 280.13 L645.68 280.35 L645.07 281.00 L645.04 281.02 L644.44 281.63 L644.13 281.94 L643.80 282.26 L643.14 282.88 L643.13 282.88 L642.47 283.49 L642.06 283.85 L641.79 284.10 L641.09 284.69 L640.90 284.85 L640.38 285.29 L639.67 285.87 L639.65 285.88 L638.94 286.45 L638.30 286.95 L638.20 287.03 L637.45 287.60 L636.85 288.04 L636.69 288.16"/>
<path d="M829.98 312.13 L829.46 311.51 L829.29 311.30 L828.95 310.89 L828.45 310.26 L827.96 309.64 L827.71 309.32 L827.48 309.01 L827.00 308.38 L826.54 307.75 L826.36 307.49 L826.09 307.12 L825.66 306.49 L825.23 305.85 L825.19 305.79 L824.82 305.21 L824.42 304.57 L824.19 304.20 L824.03 303.92 L823.66 303.27 L823.34 302.71 L823.30 302.62 L822.95 301.97 L822.63 301.31 L822.62 301.30 L822.31 300.65 L822.02 299.98 L822.02 299.97 L821.74 299.31 L821.52 298.72 L821.49 298.63 L821.25 297.95 L821.11 297.52 L821.03 297.27 L820.84 296.57 L820.79 296.39 L820.67 295.88 L820.54 295.30 L820.52 295.17 L820.40 294.46 L820.37 294.26 L820.30 293.74 L820.25 293.27 L820.23 293.02 L820.20 292.31 L820.20 292.28 L820.19 291.54 L820.19 291.39 L820.22 290.79 L820.24 290.51 L820.28 290.02 L820.33 289.65 L820.39 289.25 L820.46 288.82 L820.53 288.46 L820.63 288.02 L820.72 287.66 L820.83 287.24 L820.95 286.85 L821.07 286.49 L821.23 286.02 L821.34 285.76 L821.57 285.18 L821.63 285.04 L821.95 284.35 L821.97 284.32 L822.30 283.67 L822.42 283.44 L822.67 283.01 L822.95 282.54 L823.06 282.36 L823.47 281.73 L823.54 281.62 L823.90 281.11 L824.22 280.67 L824.34 280.51 L824.81 279.92 L824.98 279.70 L825.28 279.33 L825.78 278.76 L825.84 278.69 L826.29 278.20 L826.80 277.66 L826.81 277.65 L827.34 277.11 L827.88 276.59 L827.88 276.58 L828.44 276.06 L829.01 275.54 L829.08 275.47 L829.58 275.03 L830.17 274.53 L830.42 274.32 L830.76 274.04 L831.37 273.55 L831.92 273.11 L831.98 273.07 L832.60 272.59 L833.22 272.13 L833.59 271.85 L833.85 271.66 L834.49 271.20 L835.14 270.75 L835.46 270.53 L835.79 270.30 L836.45 269.86 L837.11 269.42 L837.55 269.14 L837.78 268.99 L838.45 268.56"/>
<path d="M669.47 254.85 L669.77 255.35 L669.87 255.51 L670.06 255.85 L670.34 256.35 L670.62 256.85 L670.75 257.11 L670.88 257.36 L671.14 257.87 L671.39 258.39 L671.49 258.61 L671.63 258.91 L671.86 259.44 L672.08 259.97 L672.10 260.02 L672.29 260.50 L672.48 261.04 L672.59 261.35 L672.66 261.59 L672.84 262.13 L672.97 262.62 L672.99 262.69 L673.14 263.25 L673.26 263.82 L673.27 263.82 L673.38 264.39 L673.47 264.97 L673.47 264.97 L673.55 265.55 L673.60 266.07 L673.61 266.14 L673.65 266.74 L673.66 267.12 L673.67 267.35 L673.67 267.97 L673.66 268.13 L673.64 268.59 L673.60 269.11 L673.59 269.23 L673.51 269.87 L673.49 270.05 L673.41 270.52 L673.32 270.96 L673.27 271.19 L673.11 271.83 L673.10 271.86 L672.90 272.55 L672.86 272.69 L672.66 273.25 L672.57 273.51 L672.39 273.96 L672.24 274.31 L672.07 274.69 L671.87 275.10 L671.70 275.44 L671.48 275.86 L671.29 276.20 L671.05 276.60 L670.82 276.98 L670.60 277.33 L670.30 277.78 L670.12 278.04 L669.72 278.60 L669.62 278.73 L669.09 279.41 L669.07 279.44 L668.54 280.08 L668.35 280.31 L667.97 280.73 L667.55 281.20 L667.38 281.37 L666.78 282.01 L666.66 282.12 L666.15 282.63 L665.68 283.07 L665.51 283.24 L664.85 283.84 L664.60 284.06 L664.17 284.43 L663.49 285.01 L663.40 285.09 L662.78 285.59 L662.07 286.16 L662.07 286.16 L661.34 286.72 L660.61 287.27 L660.60 287.28 L659.85 287.83 L659.08 288.37 L658.98 288.44 L658.31 288.90 L657.52 289.44 L657.18 289.66 L656.73 289.96 L655.93 290.48 L655.19 290.95 L655.11 291.00 L654.29 291.51 L653.46 292.02 L652.97 292.31 L652.62 292.52 L651.77 293.02 L650.92 293.52 L650.49 293.76 L650.06 294.01 L649.19 294.50 L648.31 294.98 L647.73 295.30 L647.43 295.46 L646.54 295.94"/>
<path d="M813.95 317.98 L813.23 317.42 L812.52 316.86 L811.81 316.31 L811.11 315.75 L810.41 315.19 L809.72 314.63 L809.62 314.55 L809.03 314.07 L808.35 313.52 L807.67 312.96 L807.00 312.40 L806.33 311.84 L805.67 311.28 L805.01 310.72 L804.36 310.17 L804.03 309.88 L803.71 309.61 L803.07 309.05 L802.44 308.48 L801.81 307.92 L801.19 307.36 L800.58 306.80 L799.98 306.24 L799.97 306.23 L799.38 305.67 L798.79 305.10 L798.21 304.54 L797.63 303.97 L797.07 303.40 L796.95 303.27 L796.52 302.82 L795.97 302.25 L795.44 301.67 L794.92 301.10 L794.64 300.79 L794.41 300.52 L793.91 299.93 L793.42 299.35 L792.95 298.76 L792.88 298.66 L792.50 298.17 L792.05 297.57 L791.63 296.97 L791.52 296.81 L791.22 296.37 L790.83 295.76 L790.48 295.17 L790.46 295.14 L790.12 294.52 L789.79 293.90 L789.70 293.70 L789.49 293.27 L789.22 292.63 L789.12 292.37 L788.98 291.98 L788.77 291.32 L788.72 291.16 L788.59 290.65 L788.46 290.04 L788.45 289.98 L788.35 289.29 L788.32 289.01 L788.30 288.58 L788.29 288.04 L788.30 287.87 L788.35 287.14 L788.35 287.13 L788.46 286.38 L788.48 286.29 L788.64 285.60 L788.68 285.48 L788.90 284.81 L788.94 284.72 L789.25 283.99 L789.25 283.98 L789.60 283.29 L789.70 283.12 L790.00 282.62 L790.26 282.23 L790.44 281.98 L790.90 281.36 L790.95 281.30 L791.40 280.76 L791.79 280.32 L791.92 280.18 L792.47 279.61 L792.82 279.28 L793.04 279.07 L793.63 278.53 L794.05 278.18 L794.24 278.01 L794.87 277.51 L795.51 277.01 L795.53 276.99 L796.16 276.52 L796.83 276.05 L797.32 275.71 L797.51 275.58 L798.20 275.12 L798.90 274.67 L799.49 274.30 L799.61 274.23 L800.32 273.79 L801.05 273.36 L801.78 272.94 L802.13 272.74 L802.53 272.52 L803.27 272.11 L804.03 271.70 L804.78 271.30 L805.38 270.99 L805.55 270.90 L806.32 270.51 L807.09 270.12 L807.87 269.73 L808.65 269.35 L809.44 268.97 L809.44 268.97 L810.23 268.60 L811.02 268.22 L811.81 267.86 L812.61 267.49 L813.41 267.13 L814.22 266.77 L814.61 266.59 L815.02 266.41 L815.83 266.05 L816.64 265.70 L817.45 265.35 L818.26 265.00 L819.08 264.66 L819.89 264.31 L820.71 263.97 L821.41 263.68 L821.53 263.63 L822.35 263.30 L823.17 262.96 L824.00 262.62 L824.82 262.29 L825.64 261.96 L826.47 261.63"/>
<path d="M685.06 250.29 L685.57 250.72 L686.07 251.15 L686.58 251.58 L687.08 252.01 L687.59 252.45 L688.09 252.88 L688.16 252.95 L688.58 253.32 L689.08 253.76 L689.57 254.20 L690.06 254.64 L690.55 255.09 L691.03 255.53 L691.51 255.98 L691.99 256.43 L692.23 256.66 L692.47 256.89 L692.94 257.34 L693.40 257.80 L693.87 258.26 L694.33 258.72 L694.78 259.19 L695.23 259.65 L695.23 259.65 L695.67 260.12 L696.11 260.60 L696.54 261.07 L696.96 261.55 L697.38 262.04 L697.47 262.14 L697.79 262.52 L698.19 263.01 L698.59 263.51 L698.97 264.00 L699.18 264.27 L699.35 264.51 L699.71 265.01 L700.07 265.52 L700.41 266.04 L700.47 266.13 L700.74 266.56 L701.06 267.09 L701.36 267.62 L701.44 267.77 L701.64 268.16 L701.91 268.70 L702.15 269.24 L702.16 269.26 L702.39 269.82 L702.60 270.39 L702.66 270.57 L702.78 270.96 L702.94 271.55 L702.99 271.78 L703.07 272.15 L703.16 272.76 L703.18 272.91 L703.23 273.38 L703.25 273.95 L703.25 274.01 L703.23 274.66 L703.22 274.92 L703.17 275.33 L703.09 275.84 L703.06 276.01 L702.89 276.70 L702.88 276.71 L702.65 277.44 L702.61 277.52 L702.34 278.19 L702.28 278.30 L701.94 278.96 L701.90 279.05 L701.46 279.76 L701.46 279.77 L700.98 280.45 L700.86 280.62 L700.47 281.12 L700.14 281.50 L699.92 281.76 L699.34 282.38 L699.28 282.44 L698.73 282.98 L698.25 283.43 L698.09 283.57 L697.43 284.14 L697.02 284.48 L696.75 284.70 L696.04 285.25 L695.55 285.62 L695.32 285.79 L694.58 286.31 L693.83 286.83 L693.80 286.85 L693.05 287.33 L692.27 287.83 L691.69 288.19 L691.47 288.32 L690.66 288.81 L689.83 289.28 L689.14 289.68 L689.00 289.76 L688.15 290.22 L687.30 290.68 L686.44 291.14 L686.03 291.35 L685.56 291.59 L684.68 292.03 L683.79 292.48 L682.89 292.91 L682.19 293.25 L681.99 293.35 L681.08 293.78 L680.16 294.21 L679.24 294.64 L678.30 295.06 L677.37 295.48 L677.36 295.48 L676.43 295.90 L675.48 296.31 L674.52 296.73 L673.57 297.14 L672.60 297.55 L671.63 297.96 L671.15 298.16 L670.66 298.36 L669.69 298.77 L668.70 299.17 L667.72 299.57 L666.73 299.97 L665.73 300.37 L664.74 300.77 L663.74 301.17 L662.88 301.50 L662.73 301.56 L661.72 301.96 L660.71 302.35 L659.69 302.74 L658.67 303.13 L657.65 303.52 L656.63 303.91"/>
<path d="M796.91 324.19 L795.99 323.70 L795.06 323.21 L794.14 322.72 L793.21 322.24 L792.58 321.91 L792.28 321.75 L791.35 321.27 L790.42 320.79 L789.49 320.31 L788.55 319.84 L787.61 319.37 L786.67 318.89 L786.31 318.72 L785.73 318.43 L784.78 317.96 L783.83 317.50 L782.88 317.03 L781.92 316.58 L780.96 316.12 L780.88 316.08 L780.00 315.67 L779.03 315.22 L778.06 314.77 L777.08 314.32 L776.11 313.89 L776.10 313.88 L775.11 313.44 L774.12 313.01 L773.12 312.58 L772.11 312.15 L771.88 312.05 L771.10 311.73 L770.08 311.31 L769.05 310.89 L768.08 310.51 L768.01 310.48 L766.96 310.07 L765.90 309.67 L764.83 309.27 L764.64 309.20 L763.75 308.88 L762.66 308.49 L761.55 308.11 L761.49 308.09 L760.43 307.74 L759.29 307.37 L758.59 307.14 L758.14 307.01 L756.97 306.65 L755.89 306.34 L755.78 306.30 L754.57 305.97 L753.36 305.64 L753.33 305.64 L752.07 305.32 L750.99 305.05 L750.78 305.01 L749.46 304.71 L748.74 304.55 L748.11 304.42 L746.73 304.15 L746.60 304.12 L745.30 303.89 L744.57 303.76 L743.83 303.64 L742.61 303.46 L742.32 303.41 L740.75 303.21 L740.73 303.20 L739.12 303.02 L738.92 302.99 L737.43 302.85 L737.16 302.83 L735.66 302.71 L735.46 302.69 L733.81 302.59 L733.80 302.59 L732.18 302.52 L731.88 302.51 L730.60 302.48 L729.83 302.46 L729.06 302.46 L727.67 302.46 L727.54 302.46 L726.06 302.48 L725.38 302.49 L724.59 302.51 L723.16 302.57 L722.93 302.58 L721.74 302.64 L720.34 302.72 L720.30 302.73 L718.96 302.82 L717.59 302.93 L717.47 302.94 L716.24 303.05 L714.91 303.18 L714.40 303.24 L713.58 303.32 L712.27 303.47 L711.04 303.62 L710.97 303.63 L709.68 303.80 L708.39 303.97 L707.35 304.12 L707.12 304.15 L705.86 304.34 L704.60 304.53 L703.34 304.73 L703.25 304.75 L702.10 304.94 L700.86 305.15 L699.63 305.36 L698.68 305.53 L698.40 305.58 L697.17 305.81 L695.95 306.04 L694.74 306.27 L693.53 306.51 L693.51 306.51 L692.32 306.75 L691.11 306.99 L689.91 307.24 L688.71 307.49 L687.62 307.73 L687.52 307.75 L686.32 308.01 L685.13 308.27 L683.94 308.53 L682.75 308.79 L681.57 309.06 L680.84 309.23 L680.39 309.33 L679.20 309.61 L678.02 309.88 L676.84 310.16 L675.66 310.44 L674.49 310.72 L673.31 311.01 L672.93 311.10 L672.13 311.29 L670.96 311.58 L669.78 311.87 L668.61 312.16 L667.44 312.46"/>
<path d="M700.92 245.66 L701.64 246.02 L702.36 246.38 L703.08 246.74 L703.81 247.10 L704.31 247.34 L704.55 247.46 L705.28 247.82 L706.02 248.18 L706.77 248.54 L707.52 248.89 L708.27 249.25 L709.03 249.61 L709.32 249.74 L709.80 249.96 L710.57 250.32 L711.34 250.68 L712.12 251.03 L712.91 251.38 L713.70 251.74 L713.77 251.77 L714.50 252.09 L715.31 252.44 L716.12 252.79 L716.94 253.14 L717.76 253.48 L717.77 253.48 L718.60 253.83 L719.45 254.17 L720.30 254.51 L721.16 254.85 L721.35 254.93 L722.03 255.19 L722.91 255.53 L723.80 255.86 L724.63 256.17 L724.70 256.19 L725.61 256.52 L726.53 256.85 L727.47 257.17 L727.64 257.23 L728.42 257.49 L729.39 257.80 L730.37 258.12 L730.42 258.13 L731.36 258.42 L732.37 258.73 L733.01 258.91 L733.41 259.03 L734.46 259.32 L735.43 259.58 L735.53 259.61 L736.62 259.89 L737.71 260.16 L737.74 260.16 L738.88 260.43 L739.87 260.65 L740.06 260.69 L741.26 260.94 L741.92 261.07 L742.49 261.18 L743.76 261.41 L743.88 261.43 L745.07 261.63 L745.75 261.74 L746.42 261.84 L747.55 262.00 L747.82 262.03 L749.27 262.21 L749.28 262.21 L750.77 262.37 L750.96 262.39 L752.33 262.51 L752.58 262.53 L753.97 262.64 L754.16 262.65 L755.68 262.73 L755.69 262.73 L757.19 262.80 L757.47 262.80 L758.65 262.83 L759.36 262.85 L760.08 262.85 L761.35 262.85 L761.47 262.85 L762.85 262.84 L763.47 262.82 L764.19 262.80 L765.52 262.76 L765.72 262.75 L766.82 262.70 L768.10 262.63 L768.14 262.62 L769.37 262.54 L770.62 262.45 L770.73 262.44 L771.85 262.35 L773.07 262.24 L773.53 262.19 L774.27 262.12 L775.46 261.99 L776.57 261.87 L776.64 261.86 L777.81 261.72 L778.96 261.57 L779.91 261.45 L780.11 261.42 L781.25 261.26 L782.37 261.10 L783.49 260.93 L783.57 260.92 L784.60 260.76 L785.70 260.58 L786.80 260.40 L787.64 260.26 L787.88 260.22 L788.97 260.03 L790.04 259.84 L791.11 259.65 L792.17 259.45 L792.18 259.45 L793.23 259.25 L794.28 259.05 L795.32 258.85 L796.36 258.64 L797.31 258.45 L797.40 258.43 L798.43 258.22 L799.45 258.01 L800.47 257.80 L801.49 257.58 L802.51 257.36 L803.13 257.23 L803.51 257.14 L804.52 256.92 L805.52 256.70 L806.52 256.47 L807.51 256.25 L808.50 256.02 L809.49 255.80 L809.81 255.72 L810.48 255.57 L811.46 255.34 L812.43 255.11 L813.41 254.87 L814.38 254.64"/>
<path d="M779.25 330.64 L778.11 330.21 L777.27 329.90 L776.97 329.79 L775.81 329.38 L774.65 328.97 L774.04 328.76 L773.48 328.56 L772.30 328.16 L771.11 327.76 L770.97 327.71 L769.92 327.37 L768.71 326.98 L768.03 326.76 L767.49 326.59 L766.27 326.21 L765.22 325.90 L765.03 325.84 L763.78 325.47 L762.53 325.11 L762.52 325.11 L761.25 324.75 L759.96 324.39 L759.93 324.39 L758.66 324.05 L757.43 323.73 L757.34 323.71 L756.01 323.37 L755.02 323.13 L754.66 323.05 L753.30 322.73 L752.68 322.59 L751.91 322.42 L750.51 322.11 L750.41 322.09 L749.08 321.82 L748.21 321.64 L747.64 321.53 L746.17 321.25 L746.07 321.23 L744.67 320.98 L743.99 320.86 L743.15 320.72 L741.96 320.53 L741.61 320.47 L740.03 320.23 L739.97 320.22 L738.42 320.01 L738.03 319.95 L736.78 319.79 L736.13 319.71 L735.11 319.59 L734.27 319.50 L733.39 319.40 L732.44 319.30 L731.64 319.23 L730.65 319.14 L729.85 319.07 L728.89 318.99 L728.00 318.93 L727.15 318.87 L726.11 318.80 L725.45 318.76 L724.17 318.69 L723.77 318.67 L722.17 318.61 L722.11 318.60 L720.47 318.55 L720.11 318.54 L718.86 318.51 L717.99 318.50 L717.26 318.49 L715.79 318.48 L715.69 318.48 L714.13 318.48 L713.52 318.49 L712.59 318.50 L711.16 318.52 L711.06 318.52 L709.55 318.56 L708.72 318.59 L708.05 318.61 L706.56 318.67 L706.18 318.68 L705.09 318.73 L703.63 318.81 L703.53 318.82 L702.18 318.90 L700.77 318.99 L700.74 318.99 L699.31 319.09 L697.89 319.20 L697.88 319.20 L696.47 319.32 L695.07 319.45 L694.85 319.47 L693.67 319.58 L692.29 319.71 L691.67 319.78 L690.91 319.86 L689.53 320.01 L688.33 320.14 L688.16 320.16 L686.80 320.32 L685.45 320.49 L684.80 320.57 L684.10 320.66 L682.75 320.84 L681.41 321.02 L681.06 321.07 L680.08 321.20 L678.75 321.39"/>
<path d="M716.66 241.05 L717.58 241.35 L718.26 241.57 L718.51 241.64 L719.44 241.94 L720.38 242.23 L720.88 242.38 L721.34 242.52 L722.30 242.80 L723.27 243.09 L723.39 243.12 L724.25 243.37 L725.25 243.65 L725.81 243.80 L726.25 243.93 L727.27 244.20 L728.14 244.43 L728.30 244.47 L729.34 244.74 L730.39 245.00 L730.40 245.01 L731.47 245.27 L732.55 245.52 L732.57 245.53 L733.65 245.78 L734.69 246.01 L734.76 246.03 L735.89 246.27 L736.74 246.45 L737.04 246.51 L738.21 246.75 L738.74 246.85 L739.39 246.98 L740.59 247.21 L740.68 247.22 L741.82 247.43 L742.57 247.56 L743.06 247.64 L744.33 247.85 L744.41 247.86 L745.62 248.05 L746.21 248.14 L746.94 248.25 L747.98 248.39 L748.28 248.43 L749.65 248.61 L749.70 248.62 L751.04 248.79 L751.39 248.83 L752.47 248.95 L753.04 249.01 L753.93 249.10 L754.66 249.17 L755.43 249.24 L756.26 249.32 L756.96 249.38 L757.83 249.44 L758.53 249.50 L759.37 249.55 L760.14 249.60 L760.88 249.65 L761.79 249.70 L762.37 249.73 L763.49 249.78 L763.84 249.80 L765.24 249.85 L765.29 249.85 L766.72 249.89 L767.04 249.90 L768.13 249.92 L768.89 249.93 L769.52 249.94 L770.81 249.95 L770.90 249.95 L772.25 249.95 L772.79 249.94 L773.60 249.94 L774.84 249.92 L774.92 249.92 L776.24 249.89 L776.96 249.87 L777.54 249.85 L778.83 249.81 L779.16 249.80 L780.10 249.76 L781.36 249.70 L781.45 249.70 L782.61 249.64 L783.83 249.57 L783.85 249.57 L785.08 249.49 L786.30 249.41 L786.31 249.41 L787.51 249.32 L788.71 249.22 L788.90 249.21 L789.91 249.13 L791.09 249.02 L791.61 248.98 L792.26 248.92 L793.43 248.80 L794.45 248.70 L794.59 248.69 L795.74 248.57 L796.88 248.44 L797.43 248.38 L798.02 248.31 L799.15 248.18 L800.27 248.05 L800.56 248.01 L801.39 247.91 L802.50 247.77"/>
<path d="M761.29 337.19 L759.92 336.84 L759.58 336.75 L758.55 336.49 L757.16 336.15 L757.13 336.15 L755.75 335.82 L754.75 335.59 L754.33 335.49 L752.90 335.17 L752.43 335.07 L751.45 334.86 L750.16 334.59 L749.98 334.55 L748.50 334.25 L747.94 334.14 L747.00 333.96 L745.77 333.72 L745.48 333.67 L743.94 333.39 L743.65 333.34 L742.38 333.12 L741.56 332.98 L740.80 332.86 L739.51 332.66 L739.20 332.61 L737.57 332.37 L737.50 332.36 L735.92 332.13 L735.53 332.08 L734.24 331.91 L733.59 331.82 L732.54 331.69 L731.67 331.59 L730.80 331.49 L729.79 331.38 L729.04 331.30 L727.94 331.19 L727.24 331.12 L726.11 331.02 L725.41 330.95 L724.30 330.86 L723.54 330.80 L722.52 330.72 L721.64 330.66 L720.76 330.60 L719.70 330.53 L719.03 330.50 L717.71 330.42 L717.31 330.40 L715.68 330.33 L715.61 330.33 L713.93 330.26 L713.60 330.25 L712.26 330.21 L711.48 330.19 L710.61 330.17 L709.29 330.15 L708.98 330.14 L707.36 330.13 L707.06 330.12 L705.76 330.12 L704.76 330.12 L704.17 330.13 L702.59 330.14 L702.40 330.14 L701.03 330.17 L699.98 330.19 L699.47 330.20 L697.93 330.24 L697.48 330.26 L696.40 330.29 L694.90 330.35 L694.88 330.35 L693.36 330.42 L692.24 330.47 L691.86 330.49 L690.37 330.57"/>
<path d="M731.99 236.57 L733.10 236.81 L733.38 236.87 L734.21 237.04 L735.34 237.27 L735.36 237.27 L736.49 237.50 L737.30 237.65 L737.65 237.72 L738.82 237.94 L739.21 238.01 L740.01 238.15 L741.07 238.34 L741.22 238.36 L742.44 238.57 L742.90 238.64 L743.68 238.77 L744.69 238.93 L744.93 238.97 L746.21 239.16 L746.46 239.19 L747.50 239.34 L748.19 239.44 L748.82 239.52 L749.89 239.67 L750.15 239.70 L751.51 239.87 L751.57 239.87 L752.89 240.03 L753.22 240.07 L754.29 240.19 L754.84 240.24 L755.72 240.34 L756.44 240.41 L757.18 240.48 L758.02 240.55 L758.66 240.61 L759.58 240.69 L760.16 240.74 L761.12 240.81 L761.70 240.85 L762.63 240.92 L763.27 240.96 L764.13 241.02 L764.87 241.06 L765.61 241.10 L766.51 241.15 L767.07 241.18 L768.18 241.23 L768.51 241.24 L769.88 241.30 L769.94 241.30 L771.35 241.34 L771.63 241.35 L772.75 241.38 L773.41 241.40 L774.14 241.41 L775.24 241.43 L775.51 241.43 L776.86 241.44 L777.12 241.44 L778.20 241.45 L779.04 241.45 L779.54 241.44 L780.86 241.43 L781.01 241.43 L782.16 241.42 L783.04 241.40 L783.46 241.39 L784.74 241.37 L785.12 241.36 L786.02 241.33 L787.27 241.29 L787.29 241.29 L788.54 241.24 L789.47 241.21 L789.79 241.19 L791.02 241.14"/>
<path d="M742.78 343.94 L741.32 343.69 L741.19 343.66 L739.57 343.40 L739.22 343.34 L737.93 343.13 L737.16 343.01 L736.28 342.88 L735.13 342.71 L734.60 342.64 L733.12 342.43 L732.90 342.40 L731.18 342.17 L731.15 342.17 L729.43 341.96 L729.20 341.93 L727.66 341.75 L727.28 341.70 L725.87 341.55 L725.38 341.50 L724.04 341.36 L723.50 341.31 L722.19 341.18 L721.65 341.13 L720.31 341.02 L719.81 340.98 L718.39 340.86 L718.00 340.83 L716.45 340.72 L716.21 340.70 L714.47 340.59 L714.43 340.59 L712.67 340.49 L712.45 340.48 L710.93 340.40 L710.39 340.37 L709.21 340.32 L708.30 340.28 L707.50 340.25 L706.16 340.21 L705.80 340.20 L704.12 340.16 L703.98 340.15 L702.45 340.12"/>
<path d="M747.10 232.15 L748.28 232.32 L748.38 232.33 L749.68 232.51 L749.96 232.54 L751.00 232.67 L751.63 232.75 L752.34 232.84 L753.27 232.95 L753.69 233.00 L754.89 233.13 L755.06 233.15 L756.46 233.30 L756.48 233.30 L757.87 233.44 L758.06 233.46 L759.31 233.58 L759.62 233.61 L760.77 233.71 L761.17 233.74 L762.25 233.83 L762.69 233.87 L763.76 233.95 L764.20 233.98 L765.29 234.06 L765.69 234.09 L766.84 234.16 L767.16 234.18 L768.43 234.25 L768.62 234.26 L770.04 234.34 L770.07 234.34 L771.50 234.41 L771.68 234.42 L772.92 234.47 L773.36 234.49 L774.32 234.52 L775.06 234.54 L775.71 234.56 L776.80 234.59 L777.09 234.60 L778.46 234.63 L778.57 234.63 L779.81 234.65"/>
</g>
<g fill="none" stroke="#1a1a1a" stroke-width="1.15" stroke-dasharray="1.8 2.7">
<path d="M765.96 226.64 L614.77 270.85"/>
<path d="M765.96 226.64 L881.37 293.38"/>
<path d="M765.96 226.64 L767.75 61.73"/>
</g>
<g stroke="#000" stroke-width="0.34" stroke-opacity="0.80" stroke-linejoin="round">
<polygon points="765.51,91.16 772.85,86.62 767.54,81.14 760.22,85.96" fill="#66bd63"/>
<polygon points="758.13,95.73 765.51,91.16 760.22,85.96 752.86,90.81" fill="#66bd63"/>
<polygon points="770.87,96.42 778.22,92.16 772.85,86.62 765.51,91.16" fill="#66bd63"/>
<polygon points="750.68,100.31 758.13,95.73 752.86,90.81 745.44,95.68" fill="#66bd63"/>
<polygon points="763.46,100.69 770.87,96.42 765.51,91.16 758.13,95.73" fill="#66bd63"/>
<polygon points="743.18,104.92 750.68,100.31 745.44,95.68 737.96,100.58" fill="#66bd63"/>
<polygon points="776.28,101.72 783.65,97.75 778.22,92.16 770.87,96.42" fill="#66bd63"/>
<polygon points="755.99,104.99 763.46,100.69 758.13,95.73 750.68,100.31" fill="#66bd63"/>
<polygon points="735.63,109.56 743.18,104.92 737.96,100.58 730.43,105.50" fill="#66bd63"/>
<polygon points="768.86,105.71 776.28,101.72 770.87,96.42 763.46,100.69" fill="#66bd63"/>
<polygon points="748.47,109.32 755.99,104.99 750.68,100.31 743.18,104.92" fill="#66bd63"/>
<polygon points="781.76,107.08 789.15,103.40 783.65,97.75 776.28,101.72" fill="#66bd63"/>
<polygon points="728.01,114.22 735.63,109.56 730.43,105.50 722.85,110.45" fill="#66bd63"/>
<polygon points="761.37,109.72 768.86,105.71 763.46,100.69 755.99,104.99" fill="#66bd63"/>
<polygon points="740.88,113.66 748.47,109.32 743.18,104.92 735.63,109.56" fill="#66bd63"/>
<polygon points="774.32,110.77 781.76,107.08 776.28,101.72 768.86,105.71" fill="#66bd63"/>
<polygon points="720.34,118.91 728.01,114.22 722.85,110.45 715.21,115.42" fill="#a6d96a"/>
<polygon points="787.31,112.48 794.71,109.10 789.15,103.40 781.76,107.08" fill="#66bd63"/>
<polygon points="753.82,113.75 761.37,109.72 755.99,104.99 748.47,109.32" fill="#66bd63"/>
<polygon points="733.24,118.03 740.88,113.66 735.63,109.56 728.01,114.22" fill="#a6d96a"/>
<polygon points="766.81,114.49 774.32,110.77 768.86,105.71 761.37,109.72" fill="#66bd63"/>
<polygon points="712.60,123.62 720.34,118.91 715.21,115.42 707.51,120.42" fill="#a6d96a"/>
<polygon points="779.85,115.89 787.31,112.48 781.76,107.08 774.32,110.77" fill="#66bd63"/>
<polygon points="746.21,117.81 753.82,113.75 748.47,109.32 740.88,113.66" fill="#a6d96a"/>
<polygon points="725.53,122.43 733.24,118.03 728.01,114.22 720.34,118.91" fill="#a6d96a"/>
<polygon points="792.92,117.95 800.33,114.85 794.71,109.10 787.31,112.48" fill="#66bd63"/>
<polygon points="759.24,118.23 766.81,114.49 761.37,109.72 753.82,113.75" fill="#a6d96a"/>
<polygon points="704.81,128.35 712.60,123.62 707.51,120.42 699.76,125.45" fill="#a6d96a"/>
<polygon points="738.54,121.89 746.21,117.81 740.88,113.66 733.24,118.03" fill="#a6d96a"/>
<polygon points="772.33,119.32 779.85,115.89 774.32,110.77 766.81,114.49" fill="#a6d96a"/>
<polygon points="717.77,126.85 725.53,122.43 720.34,118.91 712.60,123.62" fill="#a6d96a"/>
<polygon points="785.45,121.06 792.92,117.95 787.31,112.48 779.85,115.89" fill="#a6d96a"/>
<polygon points="696.96,133.12 704.81,128.35 699.76,125.45 691.94,130.50" fill="#a6d96a"/>
<polygon points="751.61,122.00 759.24,118.23 753.82,113.75 746.21,117.81" fill="#a6d96a"/>
<polygon points="798.60,123.46 806.02,120.66 800.33,114.85 792.92,117.95" fill="#a6d96a"/>
<polygon points="730.80,125.99 738.54,121.89 733.24,118.03 725.53,122.43" fill="#a6d96a"/>
<polygon points="764.73,122.76 772.33,119.32 766.81,114.49 759.24,118.23" fill="#a6d96a"/>
<polygon points="709.94,131.29 717.77,126.85 712.60,123.62 704.81,128.35" fill="#a6d96a"/>
<polygon points="689.04,137.91 696.96,133.12 691.94,130.50 684.07,135.58" fill="#a6d96a"/>
<polygon points="777.91,124.19 785.45,121.06 779.85,115.89 772.33,119.32" fill="#a6d96a"/>
<polygon points="743.91,125.78 751.61,122.00 746.21,117.81 738.54,121.89" fill="#a6d96a"/>
<polygon points="791.11,126.28 798.60,123.46 792.92,117.95 785.45,121.06" fill="#a6d96a"/>
<polygon points="723.00,130.11 730.80,125.99 725.53,122.43 717.77,126.85" fill="#a6d96a"/>
<polygon points="757.08,126.23 764.73,122.76 759.24,118.23 751.61,122.00" fill="#a6d96a"/>
<polygon points="702.04,135.76 709.94,131.29 704.81,128.35 696.96,133.12" fill="#a6d96a"/>
<polygon points="804.35,129.04 811.78,126.53 806.02,120.66 798.60,123.46" fill="#a6d96a"/>
<polygon points="681.06,142.73 689.04,137.91 684.07,135.58 676.14,140.69" fill="#a6d96a"/>
<polygon points="736.14,129.58 743.91,125.78 738.54,121.89 730.80,125.99" fill="#a6d96a"/>
<polygon points="770.30,127.34 777.91,124.19 772.33,119.32 764.73,122.76" fill="#a6d96a"/>
<polygon points="715.14,134.26 723.00,130.11 717.77,126.85 709.94,131.29" fill="#a6d96a"/>
<polygon points="783.56,129.11 791.11,126.28 785.45,121.06 777.91,124.19" fill="#a6d96a"/>
<polygon points="749.35,129.71 757.08,126.23 751.61,122.00 743.91,125.78" fill="#a6d96a"/>
<polygon points="694.08,140.26 702.04,135.76 696.96,133.12 689.04,137.91" fill="#a6d96a"/>
<polygon points="673.02,147.57 681.06,142.73 676.14,140.69 668.15,145.83" fill="#d9ef8b"/>
<polygon points="796.85,131.56 804.35,129.04 798.60,123.46 791.11,126.28" fill="#a6d96a"/>
<polygon points="728.31,133.41 736.14,129.58 730.80,125.99 723.00,130.11" fill="#a6d96a"/>
<polygon points="762.62,130.51 770.30,127.34 764.73,122.76 757.08,126.23" fill="#a6d96a"/>
<polygon points="810.17,134.67 817.60,132.46 811.78,126.53 804.35,129.04" fill="#a6d96a"/>
<polygon points="707.20,138.43 715.14,134.26 709.94,131.29 702.04,135.76" fill="#a6d96a"/>
<polygon points="775.93,131.96 783.56,129.11 777.91,124.19 770.30,127.34" fill="#a6d96a"/>
<polygon points="686.06,144.78 694.08,140.26 689.04,137.91 681.06,142.73" fill="#a6d96a"/>
<polygon points="741.56,133.22 749.35,129.71 743.91,125.78 736.14,129.58" fill="#a6d96a"/>
<polygon points="664.92,152.44 673.02,147.57 668.15,145.83 660.09,150.99" fill="#d9ef8b"/>
<polygon points="789.28,134.09 796.85,131.56 791.11,126.28 783.56,129.11" fill="#a6d96a"/>
<polygon points="720.41,137.26 728.31,133.41 723.00,130.11 715.14,134.26" fill="#a6d96a"/>
<polygon points="754.87,133.69 762.62,130.51 757.08,126.23 749.35,129.71" fill="#a6d96a"/>
<polygon points="802.66,136.89 810.17,134.67 804.35,129.04 796.85,131.56" fill="#a6d96a"/>
<polygon points="699.20,142.63 707.20,138.43 702.04,135.76 694.08,140.26" fill="#a6d96a"/>
<polygon points="677.97,149.33 686.06,144.78 681.06,142.73 673.02,147.57" fill="#d9ef8b"/>
<polygon points="816.06,140.36 823.50,138.45 817.60,132.46 810.17,134.67" fill="#a6d96a"/>
<polygon points="656.75,157.34 664.92,152.44 660.09,150.99 651.98,156.19" fill="#d9ef8b"/>
<polygon points="768.23,134.83 775.93,131.96 770.30,127.34 762.62,130.51" fill="#a6d96a"/>
<polygon points="733.69,136.75 741.56,133.22 736.14,129.58 728.31,133.41" fill="#a6d96a"/>
<polygon points="712.44,141.13 720.41,137.26 715.14,134.26 707.20,138.43" fill="#a6d96a"/>
<polygon points="781.64,136.64 789.28,134.09 783.56,129.11 775.93,131.96" fill="#a6d96a"/>
<polygon points="747.05,136.89 754.87,133.69 749.35,129.71 741.56,133.22" fill="#a6d96a"/>
<polygon points="691.13,146.85 699.20,142.63 694.08,140.26 686.06,144.78" fill="#a6d96a"/>
<polygon points="795.08,139.12 802.66,136.89 796.85,131.56 789.28,134.09" fill="#a6d96a"/>
<polygon points="669.81,153.90 677.97,149.33 673.02,147.57 664.92,152.44" fill="#d9ef8b"/>
<polygon points="648.51,162.27 656.75,157.34 651.98,156.19 643.80,161.41" fill="#d9ef8b"/>
<polygon points="725.76,140.29 733.69,136.75 728.31,133.41 720.41,137.26" fill="#a6d96a"/>
<polygon points="808.55,142.28 816.06,140.36 810.17,134.67 802.66,136.89" fill="#a6d96a"/>
<polygon points="760.46,137.71 768.23,134.83 762.62,130.51 754.87,133.69" fill="#a6d96a"/>
<polygon points="822.03,146.11 829.47,144.50 823.50,138.45 816.06,140.36" fill="#a6d96a"/>
<polygon points="704.40,145.03 712.44,141.13 707.20,138.43 699.20,142.63" fill="#a6d96a"/>
<polygon points="773.92,139.20 781.64,136.64 775.93,131.96 768.23,134.83" fill="#a6d96a"/>
<polygon points="683.00,151.10 691.13,146.85 686.06,144.78 677.97,149.33" fill="#d9ef8b"/>
<polygon points="739.15,140.12 747.05,136.89 741.56,133.22 733.69,136.75" fill="#a6d96a"/>
<polygon points="661.59,158.50 669.81,153.90 664.92,152.44 656.75,157.34" fill="#d9ef8b"/>
<polygon points="640.20,167.23 648.51,162.27 643.80,161.41 635.56,166.67" fill="#d9ef8b"/>
<polygon points="787.42,141.36 795.08,139.12 789.28,134.09 781.64,136.64" fill="#a6d96a"/>
<polygon points="717.75,143.86 725.76,140.29 720.41,137.26 712.44,141.13" fill="#a6d96a"/>
<polygon points="752.61,140.61 760.46,137.71 754.87,133.69 747.05,136.89" fill="#a6d96a"/>
<polygon points="800.95,144.20 808.55,142.28 802.66,136.89 795.08,139.12" fill="#a6d96a"/>
<polygon points="696.28,148.95 704.40,145.03 699.20,142.63 691.13,146.85" fill="#a6d96a"/>
<polygon points="814.50,147.72 822.03,146.11 816.06,140.36 808.55,142.28" fill="#a6d96a"/>
<polygon points="674.79,155.37 683.00,151.10 677.97,149.33 669.81,153.90" fill="#d9ef8b"/>
<polygon points="766.13,141.78 773.92,139.20 768.23,134.83 760.46,137.71" fill="#a6d96a"/>
<polygon points="631.83,172.22 640.20,167.23 635.56,166.67 627.25,171.95" fill="#d9ef8b"/>
<polygon points="653.29,163.13 661.59,158.50 656.75,157.34 648.51,162.27" fill="#d9ef8b"/>
<polygon points="731.18,143.36 739.15,140.12 733.69,136.75 725.76,140.29" fill="#a6d96a"/>
<polygon points="828.07,151.92 835.51,150.61 829.47,144.50 822.03,146.11" fill="#a6d96a"/>
<polygon points="779.69,143.62 787.42,141.36 781.64,136.64 773.92,139.20" fill="#a6d96a"/>
<polygon points="709.67,147.45 717.75,143.86 712.44,141.13 704.40,145.03" fill="#a6d96a"/>
<polygon points="744.69,143.52 752.61,140.61 747.05,136.89 739.15,140.12" fill="#a6d96a"/>
<polygon points="688.10,152.89 696.28,148.95 691.13,146.85 683.00,151.10" fill="#d9ef8b"/>
<polygon points="793.28,146.14 800.95,144.20 795.08,139.12 787.42,141.36" fill="#a6d96a"/>
<polygon points="666.51,159.67 674.79,155.37 669.81,153.90 661.59,158.50" fill="#d9ef8b"/>
<polygon points="623.39,177.23 631.83,172.22 627.25,171.95 618.88,177.27" fill="#ffffbf"/>
<polygon points="644.93,167.79 653.29,163.13 648.51,162.27 640.20,167.23" fill="#d9ef8b"/>
<polygon points="806.90,149.34 814.50,147.72 808.55,142.28 800.95,144.20" fill="#a6d96a"/>
<polygon points="723.14,146.62 731.18,143.36 725.76,140.29 717.75,143.86" fill="#a6d96a"/>
<polygon points="758.25,144.37 766.13,141.78 760.46,137.71 752.61,140.61" fill="#a6d96a"/>
<polygon points="820.54,153.23 828.07,151.92 822.03,146.11 814.50,147.72" fill="#a6d96a"/>
<polygon points="701.51,151.06 709.67,147.45 704.40,145.03 696.28,148.95" fill="#a6d96a"/>
<polygon points="834.18,157.79 841.62,156.79 835.51,150.61 828.07,151.92" fill="#d9ef8b"/>
<polygon points="771.87,145.89 779.69,143.62 773.92,139.20 766.13,141.78" fill="#a6d96a"/>
<polygon points="736.69,146.46 744.69,143.52 739.15,140.12 731.18,143.36" fill="#a6d96a"/>
<polygon points="679.84,156.86 688.10,152.89 683.00,151.10 674.79,155.37" fill="#d9ef8b"/>
<polygon points="614.88,182.28 623.39,177.23 618.88,177.27 610.44,182.61" fill="#ffffbf"/>
<polygon points="658.16,164.00 666.51,159.67 661.59,158.50 653.29,163.13" fill="#d9ef8b"/>
<polygon points="636.49,172.48 644.93,167.79 640.20,167.23 631.83,172.22" fill="#d9ef8b"/>
<polygon points="785.53,148.09 793.28,146.14 787.42,141.36 779.69,143.62" fill="#a6d96a"/>
<polygon points="715.02,149.90 723.14,146.62 717.75,143.86 709.67,147.45" fill="#a6d96a"/>
<polygon points="750.31,146.97 758.25,144.37 752.61,140.61 744.69,143.52" fill="#a6d96a"/>
<polygon points="799.22,150.97 806.90,149.34 800.95,144.20 793.28,146.14" fill="#a6d96a"/>
<polygon points="693.28,154.70 701.51,151.06 696.28,148.95 688.10,152.89" fill="#a6d96a"/>
<polygon points="812.93,154.54 820.54,153.23 814.50,147.72 806.90,149.34" fill="#a6d96a"/>
<polygon points="763.98,148.16 771.87,145.89 766.13,141.78 758.25,144.37" fill="#a6d96a"/>
<polygon points="671.51,160.85 679.84,156.86 674.79,155.37 666.51,159.67" fill="#d9ef8b"/>
<polygon points="826.65,158.79 834.18,157.79 828.07,151.92 820.54,153.23" fill="#d9ef8b"/>
<polygon points="728.61,149.41 736.69,146.46 731.18,143.36 723.14,146.62" fill="#a6d96a"/>
<polygon points="649.73,168.35 658.16,164.00 653.29,163.13 644.93,167.79" fill="#d9ef8b"/>
<polygon points="627.99,177.19 636.49,172.48 631.83,172.22 623.39,177.23" fill="#d9ef8b"/>
<polygon points="840.37,163.72 847.81,163.03 841.62,156.79 834.18,157.79" fill="#d9ef8b"/>
<polygon points="777.70,150.04 785.53,148.09 779.69,143.62 771.87,145.89" fill="#a6d96a"/>
<polygon points="706.82,153.20 715.02,149.90 709.67,147.45 701.51,151.06" fill="#a6d96a"/>
<polygon points="742.28,149.59 750.31,146.97 744.69,143.52 736.69,146.46" fill="#a6d96a"/>
<polygon points="791.46,152.60 799.22,150.97 793.28,146.14 785.53,148.09" fill="#a6d96a"/>
<polygon points="684.98,158.35 693.28,154.70 688.10,152.89 679.84,156.86" fill="#d9ef8b"/>
<polygon points="663.10,164.87 671.51,160.85 666.51,159.67 658.16,164.00" fill="#d9ef8b"/>
<polygon points="805.24,155.85 812.93,154.54 806.90,149.34 799.22,150.97" fill="#a6d96a"/>
<polygon points="619.41,181.94 627.99,177.19 623.39,177.23 614.88,182.28" fill="#ffffbf"/>
<polygon points="641.23,172.73 649.73,168.35 644.93,167.79 636.49,172.48" fill="#d9ef8b"/>
<polygon points="756.00,150.46 763.98,148.16 758.25,144.37 750.31,146.97" fill="#a6d96a"/>
<polygon points="720.46,152.37 728.61,149.41 723.14,146.62 715.02,149.90" fill="#a6d96a"/>
<polygon points="819.04,159.79 826.65,158.79 820.54,153.23 812.93,154.54" fill="#d9ef8b"/>
<polygon points="832.85,164.42 840.37,163.72 834.18,157.79 826.65,158.79" fill="#d9ef8b"/>
<polygon points="698.55,156.52 706.82,153.20 701.51,151.06 693.28,154.70" fill="#a6d96a"/>
<polygon points="769.78,152.01 777.70,150.04 771.87,145.89 763.98,148.16" fill="#a6d96a"/>
<polygon points="846.65,169.72 854.08,169.34 847.81,163.03 840.37,163.72" fill="#d9ef8b"/>
<polygon points="734.17,152.23 742.28,149.59 736.69,146.46 728.61,149.41" fill="#a6d96a"/>
<polygon points="676.59,162.03 684.98,158.35 679.84,156.86 671.51,160.85" fill="#d9ef8b"/>
<polygon points="783.61,154.24 791.46,152.60 785.53,148.09 777.70,150.04" fill="#a6d96a"/>
<polygon points="654.62,168.91 663.10,164.87 658.16,164.00 649.73,168.35" fill="#d9ef8b"/>
<polygon points="632.66,177.14 641.23,172.73 636.49,172.48 627.99,177.19" fill="#d9ef8b"/>
<polygon points="712.22,155.36 720.46,152.37 715.02,149.90 706.82,153.20" fill="#a6d96a"/>
<polygon points="747.95,152.76 756.00,150.46 750.31,146.97 742.28,149.59" fill="#a6d96a"/>
<polygon points="797.46,157.17 805.24,155.85 799.22,150.97 791.46,152.60" fill="#a6d96a"/>
<polygon points="811.34,160.79 819.04,159.79 812.93,154.54 805.24,155.85" fill="#d9ef8b"/>
<polygon points="690.20,159.86 698.55,156.52 693.28,154.70 684.98,158.35" fill="#d9ef8b"/>
<polygon points="761.79,153.98 769.78,152.01 763.98,148.16 756.00,150.46" fill="#a6d96a"/>
<polygon points="825.23,165.10 832.85,164.42 826.65,158.79 819.04,159.79" fill="#d9ef8b"/>
<polygon points="725.97,154.88 734.17,152.23 728.61,149.41 720.46,152.37" fill="#a6d96a"/>
<polygon points="668.13,165.74 676.59,162.03 671.51,160.85 663.10,164.87" fill="#d9ef8b"/>
<polygon points="839.12,170.10 846.65,169.72 840.37,163.72 832.85,164.42" fill="#d9ef8b"/>
<polygon points="853.00,175.79 860.43,175.71 854.08,169.34 846.65,169.72" fill="#d9ef8b"/>
<polygon points="646.06,172.98 654.62,168.91 649.73,168.35 641.23,172.73" fill="#d9ef8b"/>
<polygon points="624.01,181.57 632.66,177.14 627.99,177.19 619.41,181.94" fill="#d9ef8b"/>
<polygon points="775.67,155.89 783.61,154.24 777.70,150.04 769.78,152.01" fill="#a6d96a"/>
<polygon points="703.90,158.36 712.22,155.36 706.82,153.20 698.55,156.52" fill="#a6d96a"/>
<polygon points="739.80,155.08 747.95,152.76 742.28,149.59 734.17,152.23" fill="#a6d96a"/>
<polygon points="789.60,158.50 797.46,157.17 791.46,152.60 783.61,154.24" fill="#a6d96a"/>
<polygon points="681.76,163.23 690.20,159.86 684.98,158.35 676.59,162.03" fill="#d9ef8b"/>
<polygon points="803.56,161.80 811.34,160.79 805.24,155.85 797.46,157.17" fill="#a6d96a"/>
<polygon points="659.59,169.46 668.13,165.74 663.10,164.87 654.62,168.91" fill="#d9ef8b"/>
<polygon points="753.70,155.96 761.79,153.98 756.00,150.46 747.95,152.76" fill="#a6d96a"/>
<polygon points="717.70,157.54 725.97,154.88 720.46,152.37 712.22,155.36" fill="#a6d96a"/>
<polygon points="637.41,177.07 646.06,172.98 641.23,172.73 632.66,177.14" fill="#d9ef8b"/>
<polygon points="817.53,165.79 825.23,165.10 819.04,159.79 811.34,160.79" fill="#d9ef8b"/>
<polygon points="831.51,170.48 839.12,170.10 832.85,164.42 825.23,165.10" fill="#d9ef8b"/>
<polygon points="767.65,157.55 775.67,155.89 769.78,152.01 761.79,153.98" fill="#a6d96a"/>
<polygon points="845.48,175.85 853.00,175.79 846.65,169.72 839.12,170.10" fill="#d9ef8b"/>
<polygon points="695.50,161.39 703.90,158.36 698.55,156.52 690.20,159.86" fill="#a6d96a"/>
<polygon points="859.43,181.92 866.86,182.16 860.43,175.71 853.00,175.79" fill="#d9ef8b"/>
<polygon points="731.58,157.41 739.80,155.08 734.17,152.23 725.97,154.88" fill="#a6d96a"/>
<polygon points="673.24,166.61 681.76,163.23 676.59,162.03 668.13,165.74" fill="#d9ef8b"/>
<polygon points="781.65,159.82 789.60,158.50 783.61,154.24 775.67,155.89" fill="#a6d96a"/>
<polygon points="650.96,173.22 659.59,169.46 654.62,168.91 646.06,172.98" fill="#d9ef8b"/>
<polygon points="628.69,181.19 637.41,177.07 632.66,177.14 624.01,181.57" fill="#d9ef8b"/>
<polygon points="795.68,162.80 803.56,161.80 797.46,157.17 789.60,158.50" fill="#a6d96a"/>
<polygon points="709.34,160.23 717.70,157.54 712.22,155.36 703.90,158.36" fill="#a6d96a"/>
<polygon points="745.53,157.96 753.70,155.96 747.95,152.76 739.80,155.08" fill="#a6d96a"/>
<polygon points="809.73,166.47 817.53,165.79 811.34,160.79 803.56,161.80" fill="#d9ef8b"/>
<polygon points="687.01,164.43 695.50,161.39 690.20,159.86 681.76,163.23" fill="#d9ef8b"/>
<polygon points="823.80,170.84 831.51,170.48 825.23,165.10 817.53,165.79" fill="#d9ef8b"/>
<polygon points="759.54,159.21 767.65,157.55 761.79,153.98 753.70,155.96" fill="#a6d96a"/>
<polygon points="723.26,159.75 731.58,157.41 725.97,154.88 717.70,157.54" fill="#a6d96a"/>
<polygon points="837.86,175.91 845.48,175.85 839.12,170.10 831.51,170.48" fill="#d9ef8b"/>
<polygon points="664.64,170.02 673.24,166.61 668.13,165.74 659.59,169.46" fill="#d9ef8b"/>
<polygon points="851.92,181.67 859.43,181.92 853.00,175.79 845.48,175.85" fill="#d9ef8b"/>
<polygon points="865.95,188.12 873.36,188.67 866.86,182.16 859.43,181.92" fill="#d9ef8b"/>
<polygon points="773.61,161.15 781.65,159.82 775.67,155.89 767.65,157.55" fill="#a6d96a"/>
<polygon points="642.25,176.99 650.96,173.22 646.06,172.98 637.41,177.07" fill="#d9ef8b"/>
<polygon points="700.89,162.92 709.34,160.23 703.90,158.36 695.50,161.39" fill="#a6d96a"/>
<polygon points="737.27,159.96 745.53,157.96 739.80,155.08 731.58,157.41" fill="#a6d96a"/>
<polygon points="787.71,163.80 795.68,162.80 789.60,158.50 781.65,159.82" fill="#a6d96a"/>
<polygon points="678.44,167.49 687.01,164.43 681.76,163.23 673.24,166.61" fill="#d9ef8b"/>
<polygon points="801.85,167.15 809.73,166.47 803.56,161.80 795.68,162.80" fill="#d9ef8b"/>
<polygon points="751.34,160.88 759.54,159.21 753.70,155.96 745.53,157.96" fill="#a6d96a"/>
<polygon points="714.86,162.11 723.26,159.75 717.70,157.54 709.34,160.23" fill="#a6d96a"/>
<polygon points="655.95,173.45 664.64,170.02 659.59,169.46 650.96,173.22" fill="#d9ef8b"/>
<polygon points="816.00,171.20 823.80,170.84 817.53,165.79 809.73,166.47" fill="#d9ef8b"/>
<polygon points="633.46,180.79 642.25,176.99 637.41,177.07 628.69,181.19" fill="#d9ef8b"/>
<polygon points="830.16,175.95 837.86,175.91 831.51,170.48 823.80,170.84" fill="#d9ef8b"/>
<polygon points="844.31,181.40 851.92,181.67 845.48,175.85 837.86,175.91" fill="#d9ef8b"/>
<polygon points="765.47,162.49 773.61,161.15 767.65,157.55 759.54,159.21" fill="#a6d96a"/>
<polygon points="858.45,187.55 865.95,188.12 859.43,181.92 851.92,181.67" fill="#d9ef8b"/>
<polygon points="872.56,194.39 879.96,195.26 873.36,188.67 865.95,188.12" fill="#ffffbf"/>
<polygon points="692.35,165.64 700.89,162.92 695.50,161.39 687.01,164.43" fill="#a6d96a"/>
<polygon points="728.92,161.98 737.27,159.96 731.58,157.41 723.26,159.75" fill="#a6d96a"/>
<polygon points="779.65,164.80 787.71,163.80 781.65,159.82 773.61,161.15" fill="#a6d96a"/>
<polygon points="669.78,170.57 678.44,167.49 673.24,166.61 664.64,170.02" fill="#d9ef8b"/>
<polygon points="647.18,176.90 655.95,173.45 650.96,173.22 642.25,176.99" fill="#d9ef8b"/>
<polygon points="793.86,167.83 801.85,167.15 795.68,162.80 787.71,163.80" fill="#a6d96a"/>
<polygon points="743.05,162.55 751.34,160.88 745.53,157.96 737.27,159.96" fill="#a6d96a"/>
<polygon points="706.37,164.48 714.86,162.11 709.34,160.23 700.89,162.92" fill="#a6d96a"/>
<polygon points="808.10,171.55 816.00,171.20 809.73,166.47 801.85,167.15" fill="#d9ef8b"/>
<polygon points="822.35,175.99 830.16,175.95 823.80,170.84 816.00,171.20" fill="#d9ef8b"/>
<polygon points="683.73,168.37 692.35,165.64 687.01,164.43 678.44,167.49" fill="#a6d96a"/>
<polygon points="757.25,163.83 765.47,162.49 759.54,159.21 751.34,160.88" fill="#a6d96a"/>
<polygon points="836.60,181.12 844.31,181.40 837.86,175.91 830.16,175.95" fill="#d9ef8b"/>
<polygon points="720.47,164.01 728.92,161.98 723.26,159.75 714.86,162.11" fill="#a6d96a"/>
<polygon points="850.85,186.96 858.45,187.55 851.92,181.67 844.31,181.40" fill="#d9ef8b"/>
<polygon points="879.25,200.73 886.63,201.92 879.96,195.26 872.56,194.39" fill="#ffffbf"/>
<polygon points="865.07,193.50 872.56,194.39 865.95,188.12 858.45,187.55" fill="#d9ef8b"/>
<polygon points="661.03,173.67 669.78,170.57 664.64,170.02 655.95,173.45" fill="#d9ef8b"/>
<polygon points="771.50,165.81 779.65,164.80 773.61,161.15 765.47,162.49" fill="#a6d96a"/>
<polygon points="638.32,180.37 647.18,176.90 642.25,176.99 633.46,180.79" fill="#d9ef8b"/>
<polygon points="697.78,166.86 706.37,164.48 700.89,162.92 692.35,165.64" fill="#a6d96a"/>
<polygon points="734.66,164.23 743.05,162.55 737.27,159.96 728.92,161.98" fill="#a6d96a"/>
<polygon points="785.79,168.50 793.86,167.83 787.71,163.80 779.65,164.80" fill="#a6d96a"/>
<polygon points="800.11,171.90 808.10,171.55 801.85,167.15 793.86,167.83" fill="#d9ef8b"/>
<polygon points="675.01,171.12 683.73,168.37 678.44,167.49 669.78,170.57" fill="#d9ef8b"/>
<polygon points="748.92,165.17 757.25,163.83 751.34,160.88 743.05,162.55" fill="#a6d96a"/>
<polygon points="814.45,176.01 822.35,175.99 816.00,171.20 808.10,171.55" fill="#d9ef8b"/>
<polygon points="711.94,166.04 720.47,164.01 714.86,162.11 706.37,164.48" fill="#a6d96a"/>
<polygon points="652.19,176.79 661.03,173.67 655.95,173.45 647.18,176.90" fill="#d9ef8b"/>
<polygon points="828.80,180.83 836.60,181.12 830.16,175.95 822.35,175.99" fill="#d9ef8b"/>
<polygon points="843.14,186.36 850.85,186.96 844.31,181.40 836.60,181.12" fill="#d9ef8b"/>
<polygon points="763.24,166.81 771.50,165.81 765.47,162.49 757.25,163.83" fill="#a6d96a"/>
<polygon points="857.47,192.59 865.07,193.50 858.45,187.55 850.85,186.96" fill="#d9ef8b"/>
<polygon points="871.77,199.52 879.25,200.73 872.56,194.39 865.07,193.50" fill="#ffffbf"/>
<polygon points="689.11,169.26 697.78,166.86 692.35,165.64 683.73,168.37" fill="#a6d96a"/>
<polygon points="726.18,165.92 734.66,164.23 728.92,161.98 720.47,164.01" fill="#a6d96a"/>
<polygon points="777.61,169.17 785.79,168.50 779.65,164.80 771.50,165.81" fill="#a6d96a"/>
<polygon points="666.20,173.89 675.01,171.12 669.78,170.57 661.03,173.67" fill="#d9ef8b"/>
<polygon points="792.02,172.24 800.11,171.90 793.86,167.83 785.79,168.50" fill="#a6d96a"/>
<polygon points="740.50,166.51 748.92,165.17 743.05,162.55 734.66,164.23" fill="#a6d96a"/>
<polygon points="643.26,179.94 652.19,176.79 647.18,176.90 638.32,180.37" fill="#d9ef8b"/>
<polygon points="703.31,168.09 711.94,166.04 706.37,164.48 697.78,166.86" fill="#a6d96a"/>
<polygon points="806.45,176.02 814.45,176.01 808.10,171.55 800.11,171.90" fill="#d9ef8b"/>
<polygon points="820.89,180.52 828.80,180.83 822.35,175.99 814.45,176.01" fill="#d9ef8b"/>
<polygon points="754.89,167.82 763.24,166.81 757.25,163.83 748.92,165.17" fill="#a6d96a"/>
<polygon points="680.34,171.67 689.11,169.26 683.73,168.37 675.01,171.12" fill="#a6d96a"/>
<polygon points="835.34,185.73 843.14,186.36 836.60,181.12 828.80,180.83" fill="#d9ef8b"/>
<polygon points="849.77,191.65 857.47,192.59 850.85,186.96 843.14,186.36" fill="#d9ef8b"/>
<polygon points="717.60,167.62 726.18,165.92 720.47,164.01 711.94,166.04" fill="#a6d96a"/>
<polygon points="864.19,198.28 871.77,199.52 865.07,193.50 857.47,192.59" fill="#d9ef8b"/>
<polygon points="769.33,169.83 777.61,169.17 771.50,165.81 763.24,166.81" fill="#a6d96a"/>
<polygon points="657.30,176.68 666.20,173.89 661.03,173.67 652.19,176.79" fill="#d9ef8b"/>
<polygon points="731.99,167.86 740.50,166.51 734.66,164.23 726.18,165.92" fill="#a6d96a"/>
<polygon points="694.58,170.15 703.31,168.09 697.78,166.86 689.11,169.26" fill="#a6d96a"/>
<polygon points="783.82,172.57 792.02,172.24 785.79,168.50 777.61,169.17" fill="#a6d96a"/>
<polygon points="798.34,176.02 806.45,176.02 800.11,171.90 792.02,172.24" fill="#a6d96a"/>
<polygon points="671.47,174.10 680.34,171.67 675.01,171.12 666.20,173.89" fill="#a6d96a"/>
<polygon points="746.44,168.82 754.89,167.82 748.92,165.17 740.50,166.51" fill="#a6d96a"/>
<polygon points="812.88,180.19 820.89,180.52 814.45,176.01 806.45,176.02" fill="#d9ef8b"/>
<polygon points="708.93,169.33 717.60,167.62 711.94,166.04 703.31,168.09" fill="#a6d96a"/>
<polygon points="827.43,185.08 835.34,185.73 828.80,180.83 820.89,180.52" fill="#d9ef8b"/>
<polygon points="648.30,179.48 657.30,176.68 652.19,176.79 643.26,179.94" fill="#d9ef8b"/>
<polygon points="841.97,190.69 849.77,191.65 843.14,186.36 835.34,185.73" fill="#d9ef8b"/>
<polygon points="856.50,197.01 864.19,198.28 857.47,192.59 849.77,191.65" fill="#d9ef8b"/>
<polygon points="760.96,170.49 769.33,169.83 763.24,166.81 754.89,167.82" fill="#a6d96a"/>
<polygon points="685.75,172.22 694.58,170.15 689.11,169.26 680.34,171.67" fill="#a6d96a"/>
<polygon points="723.37,169.22 731.99,167.86 726.18,165.92 717.60,167.62" fill="#a6d96a"/>
<polygon points="775.52,172.89 783.82,172.57 777.61,169.17 769.33,169.83" fill="#a6d96a"/>
<polygon points="662.50,176.54 671.47,174.10 666.20,173.89 657.30,176.68" fill="#a6d96a"/>
<polygon points="790.13,176.01 798.34,176.02 792.02,172.24 783.82,172.57" fill="#a6d96a"/>
<polygon points="737.89,169.83 746.44,168.82 740.50,166.51 731.99,167.86" fill="#a6d96a"/>
<polygon points="700.15,171.04 708.93,169.33 703.31,168.09 694.58,170.15" fill="#a6d96a"/>
<polygon points="804.76,179.85 812.88,180.19 806.45,176.02 798.34,176.02" fill="#d9ef8b"/>
<polygon points="819.41,184.42 827.43,185.08 820.89,180.52 812.88,180.19" fill="#d9ef8b"/>
<polygon points="752.48,171.15 760.96,170.49 754.89,167.82 746.44,168.82" fill="#a6d96a"/>
<polygon points="834.06,189.71 841.97,190.69 835.34,185.73 827.43,185.08" fill="#d9ef8b"/>
<polygon points="676.83,174.30 685.75,172.22 680.34,171.67 671.47,174.10" fill="#a6d96a"/>
<polygon points="848.71,195.72 856.50,197.01 849.77,191.65 841.97,190.69" fill="#d9ef8b"/>
<polygon points="714.65,170.58 723.37,169.22 717.60,167.62 708.93,169.33" fill="#a6d96a"/>
<polygon points="767.12,173.20 775.52,172.89 769.33,169.83 760.96,170.49" fill="#a6d96a"/>
<polygon points="653.44,179.00 662.50,176.54 657.30,176.68 648.30,179.48" fill="#a6d96a"/>
<polygon points="781.81,175.98 790.13,176.01 783.82,172.57 775.52,172.89" fill="#a6d96a"/>
<polygon points="729.23,170.83 737.89,169.83 731.99,167.86 723.37,169.22" fill="#a6d96a"/>
<polygon points="691.27,172.77 700.15,171.04 694.58,170.15 685.75,172.22" fill="#a6d96a"/>
<polygon points="796.54,179.49 804.76,179.85 798.34,176.02 790.13,176.01" fill="#a6d96a"/>
<polygon points="743.89,171.81 752.48,171.15 746.44,168.82 737.89,169.83" fill="#a6d96a"/>
<polygon points="667.80,176.40 676.83,174.30 671.47,174.10 662.50,176.54" fill="#a6d96a"/>
<polygon points="811.29,183.73 819.41,184.42 812.88,180.19 804.76,179.85" fill="#d9ef8b"/>
<polygon points="705.82,171.94 714.65,170.58 708.93,169.33 700.15,171.04" fill="#a6d96a"/>
<polygon points="826.04,188.70 834.06,189.71 827.43,185.08 819.41,184.42" fill="#d9ef8b"/>
<polygon points="840.80,194.39 848.71,195.72 841.97,190.69 834.06,189.71" fill="#d9ef8b"/>
<polygon points="758.61,173.51 767.12,173.20 760.96,170.49 752.48,171.15" fill="#a6d96a"/>
<polygon points="682.29,174.50 691.27,172.77 685.75,172.22 676.83,174.30" fill="#a6d96a"/>
<polygon points="720.46,171.84 729.23,170.83 723.37,169.22 714.65,170.58" fill="#a6d96a"/>
<polygon points="773.39,175.95 781.81,175.98 775.52,172.89 767.12,173.20" fill="#a6d96a"/>
<polygon points="788.21,179.12 796.54,179.49 790.13,176.01 781.81,175.98" fill="#a6d96a"/>
<polygon points="658.67,178.50 667.80,176.40 662.50,176.54 653.44,179.00" fill="#a6d96a"/>
<polygon points="735.19,172.46 743.89,171.81 737.89,169.83 729.23,170.83" fill="#a6d96a"/>
<polygon points="696.89,173.31 705.82,171.94 700.15,171.04 691.27,172.77" fill="#a6d96a"/>
<polygon points="803.05,183.02 811.29,183.73 804.76,179.85 796.54,179.49" fill="#a6d96a"/>
<polygon points="817.91,187.66 826.04,188.70 819.41,184.42 811.29,183.73" fill="#d9ef8b"/>
<polygon points="749.99,173.81 758.61,173.51 752.48,171.15 743.89,171.81" fill="#a6d96a"/>
<polygon points="832.78,193.03 840.80,194.39 834.06,189.71 826.04,188.70" fill="#d9ef8b"/>
<polygon points="673.20,176.24 682.29,174.50 676.83,174.30 667.80,176.40" fill="#a6d96a"/>
<polygon points="711.59,172.84 720.46,171.84 714.65,170.58 705.82,171.94" fill="#a6d96a"/>
<polygon points="764.85,175.90 773.39,175.95 767.12,173.20 758.61,173.51" fill="#a6d96a"/>
<polygon points="779.76,178.73 788.21,179.12 781.81,175.98 773.39,175.95" fill="#a6d96a"/>
<polygon points="726.39,173.11 735.19,172.46 729.23,170.83 720.46,171.84" fill="#a6d96a"/>
<polygon points="687.85,174.68 696.89,173.31 691.27,172.77 682.29,174.50" fill="#a6d96a"/>
<polygon points="794.70,182.29 803.05,183.02 796.54,179.49 788.21,179.12" fill="#a6d96a"/>
<polygon points="809.67,186.60 817.91,187.66 811.29,183.73 803.05,183.02" fill="#a6d96a"/>
<polygon points="741.26,174.10 749.99,173.81 743.89,171.81 735.19,172.46" fill="#a6d96a"/>
<polygon points="664.00,177.98 673.20,176.24 667.80,176.40 658.67,178.50" fill="#a6d96a"/>
<polygon points="824.65,191.64 832.78,193.03 826.04,188.70 817.91,187.66" fill="#d9ef8b"/>
<polygon points="702.61,173.85 711.59,172.84 705.82,171.94 696.89,173.31" fill="#a6d96a"/>
<polygon points="756.20,175.84 764.85,175.90 758.61,173.51 749.99,173.81" fill="#a6d96a"/>
<polygon points="717.47,173.75 726.39,173.11 720.46,171.84 711.59,172.84" fill="#a6d96a"/>
<polygon points="678.70,176.06 687.85,174.68 682.29,174.50 673.20,176.24" fill="#a6d96a"/>
<polygon points="771.20,178.32 779.76,178.73 773.39,175.95 764.85,175.90" fill="#a6d96a"/>
<polygon points="786.24,181.54 794.70,182.29 788.21,179.12 779.76,178.73" fill="#a6d96a"/>
<polygon points="732.42,174.39 741.26,174.10 735.19,172.46 726.39,173.11" fill="#a6d96a"/>
<polygon points="801.31,185.50 809.67,186.60 803.05,183.02 794.70,182.29" fill="#a6d96a"/>
<polygon points="693.51,174.86 702.61,173.85 696.89,173.31 687.85,174.68" fill="#a6d96a"/>
<polygon points="816.40,190.22 824.65,191.64 817.91,187.66 809.67,186.60" fill="#a6d96a"/>
<polygon points="747.44,175.77 756.20,175.84 749.99,173.81 741.26,174.10" fill="#a6d96a"/>
<polygon points="669.43,177.44 678.70,176.06 673.20,176.24 664.00,177.98" fill="#a6d96a"/>
<polygon points="708.44,174.39 717.47,173.75 711.59,172.84 702.61,173.85" fill="#a6d96a"/>
<polygon points="762.52,177.89 771.20,178.32 764.85,175.90 756.20,175.84" fill="#a6d96a"/>
<polygon points="777.66,180.76 786.24,181.54 779.76,178.73 771.20,178.32" fill="#a6d96a"/>
<polygon points="723.45,174.66 732.42,174.39 726.39,173.11 717.47,173.75" fill="#a6d96a"/>
<polygon points="684.30,175.87 693.51,174.86 687.85,174.68 678.70,176.06" fill="#a6d96a"/>
<polygon points="792.83,184.39 801.31,185.50 794.70,182.29 786.24,181.54" fill="#a6d96a"/>
<polygon points="808.02,188.76 816.40,190.22 809.67,186.60 801.31,185.50" fill="#a6d96a"/>
<polygon points="738.55,175.68 747.44,175.77 741.26,174.10 732.42,174.39" fill="#a6d96a"/>
<polygon points="699.29,175.03 708.44,174.39 702.61,173.85 693.51,174.86" fill="#a6d96a"/>
<polygon points="753.72,177.45 762.52,177.89 756.20,175.84 747.44,175.77" fill="#a6d96a"/>
<polygon points="714.37,174.93 723.45,174.66 717.47,173.75 708.44,174.39" fill="#a6d96a"/>
<polygon points="768.95,179.97 777.66,180.76 771.20,178.32 762.52,177.89" fill="#a6d96a"/>
<polygon points="674.97,176.88 684.30,175.87 678.70,176.06 669.43,177.44" fill="#a6d96a"/>
<polygon points="784.22,183.24 792.83,184.39 786.24,181.54 777.66,180.76" fill="#a6d96a"/>
<polygon points="729.55,175.58 738.55,175.68 732.42,174.39 723.45,174.66" fill="#a6d96a"/>
<polygon points="799.53,187.27 808.02,188.76 801.31,185.50 792.83,184.39" fill="#a6d96a"/>
<polygon points="690.02,175.66 699.29,175.03 693.51,174.86 684.30,175.87" fill="#a6d96a"/>
<polygon points="744.80,176.98 753.72,177.45 747.44,175.77 738.55,175.68" fill="#a6d96a"/>
<polygon points="705.17,175.19 714.37,174.93 708.44,174.39 699.29,175.03" fill="#a6d96a"/>
<polygon points="760.12,179.14 768.95,179.97 762.52,177.89 753.72,177.45" fill="#a6d96a"/>
<polygon points="775.50,182.06 784.22,183.24 777.66,180.76 768.95,179.97" fill="#a6d96a"/>
<polygon points="720.42,175.47 729.55,175.58 723.45,174.66 714.37,174.93" fill="#a6d96a"/>
<polygon points="680.62,176.29 690.02,175.66 684.30,175.87 674.97,176.88" fill="#a6d96a"/>
<polygon points="790.91,185.75 799.53,187.27 792.83,184.39 784.22,183.24" fill="#a6d96a"/>
<polygon points="735.76,176.50 744.80,176.98 738.55,175.68 729.55,175.58" fill="#a6d96a"/>
<polygon points="695.84,175.44 705.17,175.19 699.29,175.03 690.02,175.66" fill="#a6d96a"/>
<polygon points="751.17,178.30 760.12,179.14 753.72,177.45 744.80,176.98" fill="#a6d96a"/>
<polygon points="766.64,180.86 775.50,182.06 768.95,179.97 760.12,179.14" fill="#a6d96a"/>
<polygon points="711.17,175.34 720.42,175.47 714.37,174.93 705.17,175.19" fill="#a6d96a"/>
<polygon points="782.16,184.19 790.91,185.75 784.22,183.24 775.50,182.06" fill="#a6d96a"/>
<polygon points="726.59,176.00 735.76,176.50 729.55,175.58 720.42,175.47" fill="#a6d96a"/>
<polygon points="686.39,175.68 695.84,175.44 690.02,175.66 680.62,176.29" fill="#66bd63"/>
<polygon points="742.09,177.43 751.17,178.30 744.80,176.98 735.76,176.50" fill="#a6d96a"/>
<polygon points="701.78,175.20 711.17,175.34 705.17,175.19 695.84,175.44" fill="#66bd63"/>
<polygon points="757.65,179.62 766.64,180.86 760.12,179.14 751.17,178.30" fill="#a6d96a"/>
<polygon points="773.28,182.59 782.16,184.19 775.50,182.06 766.64,180.86" fill="#a6d96a"/>
<polygon points="717.28,175.48 726.59,176.00 720.42,175.47 711.17,175.34" fill="#66bd63"/>
<polygon points="732.87,176.53 742.09,177.43 735.76,176.50 726.59,176.00" fill="#66bd63"/>
<polygon points="692.27,175.04 701.78,175.20 695.84,175.44 686.39,175.68" fill="#66bd63"/>
<polygon points="748.53,178.36 757.65,179.62 751.17,178.30 742.09,177.43" fill="#66bd63"/>
<polygon points="764.26,180.96 773.28,182.59 766.64,180.86 757.65,179.62" fill="#66bd63"/>
<polygon points="707.84,174.94 717.28,175.48 711.17,175.34 701.78,175.20" fill="#66bd63"/>
<polygon points="723.52,175.61 732.87,176.53 726.59,176.00 717.28,175.48" fill="#66bd63"/>
<polygon points="739.28,177.06 748.53,178.36 742.09,177.43 732.87,176.53" fill="#66bd63"/>
<polygon points="698.27,174.38 707.84,174.94 701.78,175.20 692.27,175.04" fill="#66bd63"/>
<polygon points="755.11,179.29 764.26,180.96 757.65,179.62 748.53,178.36" fill="#66bd63"/>
<polygon points="714.03,174.66 723.52,175.61 717.28,175.48 707.84,174.94" fill="#66bd63"/>
<polygon points="729.88,175.73 739.28,177.06 732.87,176.53 723.52,175.61" fill="#66bd63"/>
<polygon points="745.81,177.59 755.11,179.29 748.53,178.36 739.28,177.06" fill="#66bd63"/>
<polygon points="704.40,173.69 714.03,174.66 707.84,174.94 698.27,174.38" fill="#66bd63"/>
<polygon points="720.34,174.37 729.88,175.73 723.52,175.61 714.03,174.66" fill="#66bd63"/>
<polygon points="736.37,175.84 745.81,177.59 739.28,177.06 729.88,175.73" fill="#66bd63"/>
<polygon points="710.65,172.97 720.34,174.37 714.03,174.66 704.40,173.69" fill="#66bd63"/>
<polygon points="726.78,174.05 736.37,175.84 729.88,175.73 720.34,174.37" fill="#66bd63"/>
<polygon points="717.04,172.22 726.78,174.05 720.34,174.37 710.65,172.97" fill="#66bd63"/>
</g>
<g fill="none" stroke="#0714e4" stroke-width="1.60" stroke-linecap="butt">
<path d="M610.44 182.61 L613.66 181.21 L616.90 179.85 L620.14 178.52 L623.39 177.23 L626.65 175.99 L629.93 174.78 L633.21 173.61 L636.49 172.48 L639.79 171.39 L643.10 170.33 L646.41 169.32 L649.73 168.35 L653.06 167.42 L656.40 166.53 L659.75 165.68 L663.10 164.87 L666.46 164.10 L669.83 163.37 L673.21 162.68 L676.59 162.03 L679.98 161.43 L683.38 160.87 L686.78 160.34 L690.20 159.86 L693.61 159.43 L697.04 159.03 L700.46 158.68 L703.90 158.36 L707.34 158.10 L710.79 157.87 L714.24 157.68 L717.70 157.54 L721.16 157.44 L724.63 157.39 L728.10 157.38 L731.58 157.41 L735.06 157.48 L738.54 157.60 L742.03 157.76 L745.53 157.96 L749.03 158.21 L752.53 158.50 L756.03 158.83 L759.54 159.21 L763.05 159.63 L766.57 160.09 L770.09 160.60 L773.61 161.15 L777.13 161.75 L780.66 162.39 L784.18 163.07 L787.71 163.80 L791.24 164.57 L794.78 165.39 L798.31 166.25 L801.85 167.15 L805.38 168.10 L808.92 169.09 L812.46 170.12 L816.00 171.20 L819.54 172.32 L823.08 173.49 L826.62 174.70 L830.16 175.95 L833.70 177.25 L837.23 178.59 L840.77 179.98 L844.31 181.40 L847.85 182.88 L851.38 184.39 L854.92 185.95 L858.45 187.55 L861.98 189.20 L865.51 190.89 L869.04 192.62 L872.56 194.39 L876.08 196.21 L879.60 198.07 L883.12 199.97 L886.63 201.92"/>
<path d="M717.04 172.22 L717.87 172.85 L718.70 173.41 L719.52 173.92 L720.34 174.37 L721.14 174.76 L721.94 175.10 L722.73 175.38 L723.52 175.61 L724.29 175.78 L725.06 175.91 L725.83 175.98 L726.59 176.00 L727.34 175.97 L728.08 175.89 L728.82 175.76 L729.55 175.58 L730.27 175.35 L730.99 175.08 L731.71 174.76 L732.42 174.39 L733.12 173.97 L733.81 173.51 L734.51 173.01 L735.19 172.46 L735.87 171.87 L736.55 171.23 L737.22 170.55 L737.89 169.83 L738.55 169.06 L739.20 168.25 L739.86 167.40 L740.50 166.51 L741.15 165.58 L741.79 164.61 L742.42 163.60 L743.05 162.55 L743.68 161.46 L744.30 160.33 L744.91 159.17 L745.53 157.96 L746.14 156.72 L746.74 155.43 L747.35 154.12 L747.95 152.76 L748.54 151.37 L749.13 149.94 L749.72 148.47 L750.31 146.97 L750.89 145.43 L751.46 143.86 L752.04 142.25 L752.61 140.61 L753.18 138.93 L753.75 137.22 L754.31 135.47 L754.87 133.69 L755.42 131.88 L755.98 130.03 L756.53 128.14 L757.08 126.23 L757.62 124.28 L758.17 122.30 L758.71 120.28 L759.24 118.23 L759.78 116.15 L760.31 114.04 L760.84 111.90 L761.37 109.72 L761.90 107.51 L762.42 105.27 L762.94 103.00 L763.46 100.69 L763.98 98.36 L764.49 95.99 L765.00 93.59 L765.51 91.16 L766.02 88.70 L766.53 86.21 L767.03 83.69 L767.54 81.14"/>
</g>
<g fill="none" stroke="#1a1a1a" stroke-width="0.85" stroke-linecap="round">
<path d="M605.95 91.31 L767.75 61.73 L892.09 106.98 L716.84 147.68 Z"/>
<path d="M605.95 91.31 L614.77 270.85"/>
<path d="M892.09 106.98 L881.37 293.38"/>
<path d="M716.84 147.68 L718.50 352.80"/>
<path d="M614.77 270.85 L718.50 352.80 L881.37 293.38"/>
<path d="M605.95 91.31 L590.75 90.41"/>
<path d="M608.20 137.07 L593.00 136.17"/>
<path d="M610.37 181.30 L595.17 180.40"/>
<path d="M612.48 224.07 L597.28 223.17"/>
<path d="M614.51 265.46 L599.31 264.56"/>
<path d="M637.82 289.05 L629.22 301.55"/>
<path d="M662.64 308.67 L654.04 321.17"/>
<path d="M689.45 329.85 L680.85 342.35"/>
<path d="M762.70 336.68 L769.30 351.28"/>
<path d="M804.45 321.44 L811.05 336.04"/>
<path d="M843.95 307.03 L850.55 321.63"/>
</g>
<g font-size="9.30" text-anchor="middle" fill="#111" stroke="#111" stroke-width="0.25">
<text x="575.00" y="93.40">1</text>
<text x="578.50" y="139.70">0</text>
<text x="581.80" y="183.40">−1</text>
<text x="584.80" y="225.90">−2</text>
<text x="587.30" y="267.10">−3</text>
<text x="620.80" y="316.60">1</text>
<text x="644.50" y="337.10">0</text>
<text x="671.80" y="359.60">−1</text>
<text x="775.50" y="370.10">−1</text>
<text x="817.50" y="353.90">0</text>
<text x="858.30" y="338.40">1</text>
</g>
<text transform="translate(552.60 180.40) rotate(-90.00)" font-size="9.10" text-anchor="middle" textLength="97.0" lengthAdjust="spacingAndGlyphs" fill="#111" stroke="#111" stroke-width="0.25">Relationship Satisfaction</text>
<text transform="translate(624.00 362.40) rotate(39.80)" font-size="9.10" text-anchor="middle" textLength="141.5" lengthAdjust="spacingAndGlyphs" fill="#111" stroke="#111" stroke-width="0.25">Partners&#39; Solitary Pornography Use</text>
<text transform="translate(832.50 382.80) rotate(-18.80)" font-size="9.10" text-anchor="middle" textLength="133.4" lengthAdjust="spacingAndGlyphs" fill="#111" stroke="#111" stroke-width="0.25">Actors&#39; Solitary Pornography Use</text>
<rect x="963.00" y="3.00" width="12.6" height="46.30" fill="#006837"/>
<rect x="963.00" y="49.00" width="12.6" height="46.30" fill="#1a9850"/>
<rect x="963.00" y="95.00" width="12.6" height="46.30" fill="#a6d96a"/>
<rect x="963.00" y="141.00" width="12.6" height="46.30" fill="#d9ef8b"/>
<rect x="963.00" y="187.00" width="12.6" height="46.30" fill="#ffffbf"/>
<rect x="963.00" y="233.00" width="12.6" height="46.30" fill="#fee08b"/>
<rect x="963.00" y="279.00" width="12.6" height="46.30" fill="#fdae61"/>
<rect x="963.00" y="325.00" width="12.6" height="46.30" fill="#d73027"/>
<rect x="963.00" y="371.00" width="12.6" height="46.30" fill="#a50026"/>
<g font-size="8.8" fill="#111" stroke="#111" stroke-width="0.2">
<text x="982.90" y="7.10">1.0</text>
<text x="982.90" y="57.25">0.5</text>
<text x="982.90" y="107.40">0.0</text>
<text x="982.90" y="157.55">−0.5</text>
<text x="982.90" y="207.70">−1.0</text>
<text x="982.90" y="257.85">−1.5</text>
<text x="982.90" y="308.00">−2.0</text>
<text x="982.90" y="358.15">−2.5</text>
<text x="982.90" y="408.30">−3.0</text>
</g>
<text transform="translate(954.00 211.70) rotate(-90)" font-size="8.3" text-anchor="middle" textLength="121.5" lengthAdjust="spacingAndGlyphs" fill="#111" stroke="#111" stroke-width="0.2">Level of Relationship Satisfaction</text>
<text x="0.3" y="12.9" font-size="18.0" font-weight="bold" fill="#000">A</text>
<text x="544.0" y="12.8" font-size="18.0" font-weight="bold" fill="#000">B</text>
</svg>
</body></html>
